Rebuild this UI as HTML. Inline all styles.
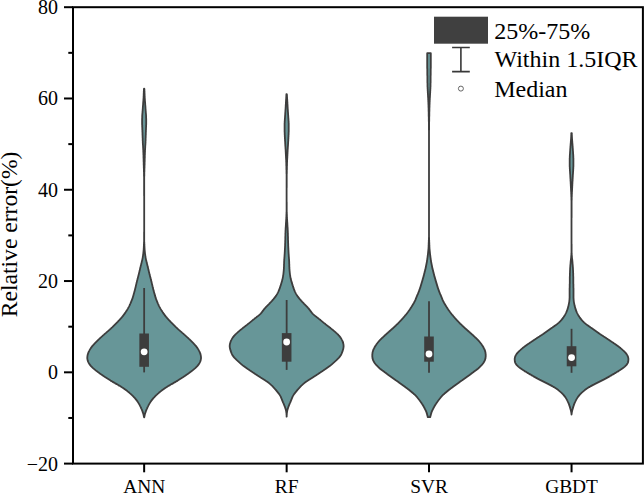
<!DOCTYPE html>
<html><head><meta charset="utf-8"><style>
html,body{margin:0;padding:0;background:#fff;width:644px;height:494px;overflow:hidden}
svg{display:block}
text{font-family:"Liberation Serif",serif;fill:#000}
.tk{font-size:20px}
.xt{font-size:19.4px}
.yl{font-size:23.6px}
.lg{font-size:24px}
</style></head><body>
<svg width="644" height="494" viewBox="0 0 644 494">
<path d="M144.0,88.6 L143.9,89.1 L143.9,89.6 L143.9,90.1 L143.9,90.6 L143.8,91.1 L143.8,91.6 L143.8,92.1 L143.8,92.6 L143.8,93.1 L143.7,93.6 L143.7,94.1 L143.7,94.6 L143.7,95.1 L143.7,95.6 L143.6,96.1 L143.6,96.6 L143.6,97.1 L143.6,97.6 L143.5,98.1 L143.5,98.6 L143.5,99.1 L143.4,99.6 L143.4,100.1 L143.4,100.6 L143.3,101.1 L143.3,101.6 L143.2,102.1 L143.2,102.6 L143.2,103.1 L143.1,103.6 L143.1,104.1 L143.1,104.6 L143.0,105.1 L143.0,105.6 L142.9,106.1 L142.9,106.6 L142.9,107.1 L142.8,107.6 L142.8,108.1 L142.8,108.6 L142.7,109.1 L142.7,109.6 L142.7,110.1 L142.6,110.6 L142.6,111.1 L142.5,111.6 L142.5,112.1 L142.5,112.6 L142.4,113.1 L142.4,113.6 L142.3,114.1 L142.3,114.6 L142.3,115.1 L142.2,115.6 L142.2,116.1 L142.2,116.6 L142.2,117.1 L142.2,117.6 L142.2,118.1 L142.1,118.6 L142.1,119.1 L142.1,119.6 L142.1,120.1 L142.1,120.6 L142.1,121.1 L142.1,121.6 L142.1,122.1 L142.1,122.6 L142.1,123.1 L142.1,123.6 L142.1,124.1 L142.1,124.6 L142.2,125.1 L142.2,125.6 L142.2,126.1 L142.2,126.6 L142.2,127.1 L142.3,127.6 L142.3,128.1 L142.3,128.6 L142.3,129.1 L142.3,129.6 L142.4,130.1 L142.4,130.6 L142.4,131.1 L142.4,131.6 L142.4,132.1 L142.5,132.6 L142.5,133.1 L142.5,133.6 L142.5,134.1 L142.5,134.6 L142.5,135.1 L142.6,135.6 L142.6,136.1 L142.6,136.6 L142.6,137.1 L142.6,137.6 L142.7,138.1 L142.7,138.6 L142.7,139.1 L142.7,139.6 L142.7,140.1 L142.7,140.6 L142.8,141.1 L142.8,141.6 L142.8,142.1 L142.8,142.6 L142.8,143.1 L142.9,143.6 L142.9,144.1 L142.9,144.6 L143.0,145.1 L143.0,145.6 L143.0,146.1 L143.1,146.6 L143.1,147.1 L143.1,147.6 L143.1,148.1 L143.2,148.6 L143.2,149.1 L143.2,149.6 L143.3,150.1 L143.3,150.6 L143.3,151.1 L143.3,151.6 L143.3,152.1 L143.4,152.6 L143.4,153.1 L143.4,153.6 L143.4,154.1 L143.4,154.6 L143.5,155.1 L143.5,155.6 L143.5,156.1 L143.5,156.6 L143.5,157.1 L143.5,157.6 L143.5,158.1 L143.6,158.6 L143.6,159.1 L143.6,159.6 L143.6,160.1 L143.6,160.6 L143.6,161.1 L143.6,161.6 L143.7,162.1 L143.7,162.6 L143.7,163.1 L143.7,163.6 L143.7,164.1 L143.7,164.6 L143.7,165.1 L143.8,165.6 L143.8,166.1 L143.8,166.6 L143.8,167.1 L143.8,167.6 L143.8,168.1 L143.9,168.6 L143.9,169.1 L143.9,169.6 L143.9,170.1 L143.9,170.6 L143.9,171.1 L143.9,171.6 L144.0,172.1 L144.0,172.6 L144.0,173.1 L144.0,173.6 L144.0,174.1 L144.0,174.6 L144.0,175.1 L144.0,175.6 L144.0,176.1 L144.1,176.6 L144.1,177.1 L144.1,177.6 L144.1,178.1 L144.1,178.6 L144.1,179.1 L144.1,179.6 L144.1,180.1 L144.1,180.6 L144.1,181.1 L144.1,181.6 L144.1,182.1 L144.1,182.6 L144.1,183.1 L144.1,183.6 L144.1,184.1 L144.1,184.6 L144.1,185.1 L144.1,185.6 L144.1,186.1 L144.1,186.6 L144.1,187.1 L144.1,187.6 L144.1,188.1 L144.1,188.6 L144.1,189.1 L144.1,189.6 L144.1,190.1 L144.1,190.6 L144.1,191.1 L144.1,191.6 L144.1,192.1 L144.1,192.6 L144.1,193.1 L144.1,193.6 L144.1,194.1 L144.1,194.6 L144.1,195.1 L144.1,195.6 L144.2,196.1 L144.2,196.6 L144.2,197.1 L144.2,197.6 L144.2,198.1 L144.2,198.6 L144.2,199.1 L144.2,199.6 L144.2,200.1 L144.2,200.6 L144.2,201.1 L144.2,201.6 L144.2,202.1 L144.2,202.6 L144.2,203.1 L144.2,203.6 L144.2,204.1 L144.2,204.6 L144.2,205.1 L144.2,205.6 L144.2,206.1 L144.2,206.6 L144.2,207.1 L144.2,207.6 L144.2,208.1 L144.2,208.6 L144.2,209.1 L144.2,209.6 L144.2,210.1 L144.2,210.6 L144.2,211.1 L144.2,211.6 L144.2,212.1 L144.2,212.6 L144.2,213.1 L144.2,213.6 L144.2,214.1 L144.2,214.6 L144.2,215.1 L144.2,215.6 L144.2,216.1 L144.2,216.6 L144.2,217.1 L144.2,217.6 L144.2,218.1 L144.2,218.6 L144.2,219.1 L144.2,219.6 L144.2,220.1 L144.2,220.6 L144.2,221.1 L144.2,221.6 L144.2,222.1 L144.2,222.6 L144.2,223.1 L144.2,223.6 L144.2,224.1 L144.2,224.6 L144.2,225.1 L144.2,225.6 L144.2,226.1 L144.2,226.6 L144.2,227.1 L144.2,227.6 L144.2,228.1 L144.2,228.6 L144.2,229.1 L144.2,229.6 L144.2,230.1 L144.2,230.6 L144.2,231.1 L144.2,231.6 L144.1,232.1 L144.1,232.6 L144.1,233.1 L144.1,233.6 L144.1,234.1 L144.1,234.6 L144.1,235.1 L144.1,235.6 L144.1,236.1 L144.1,236.6 L144.1,237.1 L144.1,237.6 L144.1,238.1 L144.1,238.6 L144.1,239.1 L144.1,239.6 L144.1,240.1 L144.1,240.6 L144.1,241.1 L144.1,241.6 L144.0,242.1 L144.0,242.6 L144.0,243.1 L144.0,243.6 L143.9,244.1 L143.9,244.6 L143.9,245.1 L143.9,245.6 L143.9,246.1 L143.8,246.6 L143.8,247.1 L143.8,247.6 L143.8,248.1 L143.7,248.6 L143.7,249.1 L143.7,249.6 L143.6,250.1 L143.6,250.6 L143.5,251.1 L143.5,251.6 L143.4,252.1 L143.4,252.6 L143.3,253.1 L143.3,253.6 L143.2,254.1 L143.1,254.6 L143.1,255.1 L143.0,255.6 L142.9,256.1 L142.8,256.6 L142.8,257.1 L142.7,257.6 L142.6,258.1 L142.5,258.6 L142.4,259.1 L142.3,259.6 L142.2,260.1 L142.1,260.6 L141.9,261.1 L141.8,261.6 L141.7,262.1 L141.6,262.6 L141.5,263.1 L141.3,263.6 L141.2,264.1 L141.1,264.6 L141.0,265.1 L140.8,265.6 L140.7,266.1 L140.6,266.6 L140.5,267.1 L140.3,267.6 L140.2,268.1 L140.1,268.6 L140.0,269.1 L139.9,269.6 L139.8,270.1 L139.6,270.6 L139.5,271.1 L139.4,271.6 L139.3,272.1 L139.2,272.6 L139.0,273.1 L138.9,273.6 L138.8,274.1 L138.7,274.6 L138.5,275.1 L138.4,275.6 L138.3,276.1 L138.2,276.6 L138.0,277.1 L137.9,277.6 L137.8,278.1 L137.6,278.6 L137.5,279.1 L137.4,279.6 L137.3,280.1 L137.1,280.6 L137.0,281.1 L136.9,281.6 L136.8,282.1 L136.6,282.6 L136.5,283.1 L136.4,283.6 L136.3,284.1 L136.2,284.6 L136.0,285.1 L135.9,285.6 L135.8,286.1 L135.7,286.6 L135.6,287.1 L135.5,287.6 L135.3,288.1 L135.2,288.6 L135.1,289.1 L135.0,289.6 L134.8,290.1 L134.7,290.6 L134.6,291.1 L134.4,291.6 L134.3,292.1 L134.2,292.6 L134.0,293.1 L133.9,293.6 L133.7,294.1 L133.6,294.6 L133.5,295.1 L133.3,295.6 L133.2,296.1 L133.0,296.6 L132.9,297.1 L132.7,297.6 L132.6,298.1 L132.4,298.6 L132.2,299.1 L132.0,299.6 L131.8,300.1 L131.6,300.6 L131.4,301.1 L131.2,301.6 L131.0,302.1 L130.8,302.6 L130.6,303.1 L130.4,303.6 L130.1,304.1 L129.9,304.6 L129.7,305.1 L129.5,305.6 L129.2,306.1 L129.0,306.6 L128.7,307.1 L128.4,307.6 L128.1,308.1 L127.9,308.6 L127.6,309.1 L127.3,309.6 L127.0,310.1 L126.7,310.6 L126.3,311.1 L126.0,311.6 L125.7,312.1 L125.4,312.6 L125.0,313.1 L124.7,313.6 L124.3,314.1 L123.9,314.6 L123.6,315.1 L123.2,315.6 L122.8,316.1 L122.4,316.6 L121.9,317.1 L121.5,317.6 L121.1,318.1 L120.6,318.6 L120.2,319.1 L119.7,319.6 L119.3,320.1 L118.8,320.6 L118.3,321.1 L117.9,321.6 L117.4,322.1 L116.9,322.6 L116.4,323.1 L115.9,323.6 L115.4,324.1 L114.9,324.6 L114.4,325.1 L113.9,325.6 L113.4,326.1 L112.9,326.6 L112.4,327.1 L111.8,327.6 L111.3,328.1 L110.8,328.6 L110.2,329.1 L109.7,329.6 L109.1,330.1 L108.5,330.6 L108.0,331.1 L107.4,331.6 L106.8,332.1 L106.3,332.6 L105.7,333.1 L105.1,333.6 L104.5,334.1 L104.0,334.6 L103.4,335.1 L102.8,335.6 L102.3,336.1 L101.7,336.6 L101.2,337.1 L100.6,337.6 L100.1,338.1 L99.6,338.6 L99.0,339.1 L98.5,339.6 L98.0,340.1 L97.5,340.6 L97.0,341.1 L96.5,341.6 L96.0,342.1 L95.5,342.6 L95.0,343.1 L94.5,343.6 L94.1,344.1 L93.6,344.6 L93.2,345.1 L92.7,345.6 L92.3,346.1 L91.9,346.6 L91.6,347.1 L91.2,347.6 L90.8,348.1 L90.5,348.6 L90.2,349.1 L89.9,349.6 L89.6,350.1 L89.3,350.6 L89.1,351.1 L88.8,351.6 L88.6,352.1 L88.4,352.6 L88.2,353.1 L88.0,353.6 L87.9,354.1 L87.7,354.6 L87.6,355.1 L87.5,355.6 L87.4,356.1 L87.4,356.6 L87.3,357.1 L87.3,357.6 L87.3,358.1 L87.3,358.6 L87.4,359.1 L87.5,359.6 L87.6,360.1 L87.7,360.6 L87.9,361.1 L88.1,361.6 L88.3,362.1 L88.6,362.6 L88.8,363.1 L89.1,363.6 L89.4,364.1 L89.8,364.6 L90.2,365.1 L90.6,365.6 L91.0,366.1 L91.5,366.6 L92.0,367.1 L92.5,367.6 L93.0,368.1 L93.6,368.6 L94.2,369.1 L94.8,369.6 L95.4,370.1 L96.0,370.6 L96.6,371.1 L97.3,371.6 L97.9,372.1 L98.6,372.6 L99.3,373.1 L99.9,373.6 L100.6,374.1 L101.4,374.6 L102.1,375.1 L102.8,375.6 L103.5,376.1 L104.3,376.6 L105.0,377.1 L105.8,377.6 L106.6,378.1 L107.4,378.6 L108.2,379.1 L109.0,379.6 L109.8,380.1 L110.6,380.6 L111.5,381.1 L112.3,381.6 L113.2,382.1 L114.1,382.6 L114.9,383.1 L115.8,383.6 L116.7,384.1 L117.5,384.6 L118.3,385.1 L119.2,385.6 L120.0,386.1 L120.8,386.6 L121.5,387.1 L122.3,387.6 L123.1,388.1 L123.8,388.6 L124.5,389.1 L125.2,389.6 L125.9,390.1 L126.6,390.6 L127.3,391.1 L127.9,391.6 L128.5,392.1 L129.2,392.6 L129.7,393.1 L130.3,393.6 L130.9,394.1 L131.4,394.6 L132.0,395.1 L132.5,395.6 L133.0,396.1 L133.5,396.6 L133.9,397.1 L134.4,397.6 L134.9,398.1 L135.3,398.6 L135.7,399.1 L136.1,399.6 L136.5,400.1 L136.9,400.6 L137.2,401.1 L137.6,401.6 L137.9,402.1 L138.2,402.6 L138.5,403.1 L138.8,403.6 L139.1,404.1 L139.4,404.6 L139.7,405.1 L139.9,405.6 L140.2,406.1 L140.4,406.6 L140.7,407.1 L140.9,407.6 L141.1,408.1 L141.3,408.6 L141.6,409.1 L141.8,409.6 L142.0,410.1 L142.2,410.6 L142.4,411.1 L142.5,411.6 L142.7,412.1 L142.9,412.6 L143.1,413.1 L143.2,413.6 L143.4,414.1 L143.5,414.6 L143.6,415.1 L143.7,415.6 L143.8,416.1 L143.9,416.6 L144.0,417.1 L144.2,417.3 L144.2,417.3 L144.3,417.1 L144.4,416.6 L144.5,416.1 L144.6,415.6 L144.7,415.1 L144.8,414.6 L144.9,414.1 L145.1,413.6 L145.2,413.1 L145.4,412.6 L145.6,412.1 L145.8,411.6 L145.9,411.1 L146.1,410.6 L146.3,410.1 L146.5,409.6 L146.7,409.1 L147.0,408.6 L147.2,408.1 L147.4,407.6 L147.6,407.1 L147.9,406.6 L148.1,406.1 L148.4,405.6 L148.6,405.1 L148.9,404.6 L149.2,404.1 L149.5,403.6 L149.8,403.1 L150.1,402.6 L150.4,402.1 L150.7,401.6 L151.1,401.1 L151.4,400.6 L151.8,400.1 L152.2,399.6 L152.6,399.1 L153.0,398.6 L153.4,398.1 L153.9,397.6 L154.4,397.1 L154.8,396.6 L155.3,396.1 L155.8,395.6 L156.3,395.1 L156.9,394.6 L157.4,394.1 L158.0,393.6 L158.6,393.1 L159.1,392.6 L159.8,392.1 L160.4,391.6 L161.0,391.1 L161.7,390.6 L162.4,390.1 L163.1,389.6 L163.8,389.1 L164.5,388.6 L165.2,388.1 L166.0,387.6 L166.8,387.1 L167.5,386.6 L168.3,386.1 L169.1,385.6 L170.0,385.1 L170.8,384.6 L171.6,384.1 L172.5,383.6 L173.4,383.1 L174.2,382.6 L175.1,382.1 L176.0,381.6 L176.8,381.1 L177.7,380.6 L178.5,380.1 L179.3,379.6 L180.1,379.1 L180.9,378.6 L181.7,378.1 L182.5,377.6 L183.3,377.1 L184.0,376.6 L184.8,376.1 L185.5,375.6 L186.2,375.1 L186.9,374.6 L187.7,374.1 L188.4,373.6 L189.0,373.1 L189.7,372.6 L190.4,372.1 L191.0,371.6 L191.7,371.1 L192.3,370.6 L192.9,370.1 L193.5,369.6 L194.1,369.1 L194.7,368.6 L195.3,368.1 L195.8,367.6 L196.3,367.1 L196.8,366.6 L197.3,366.1 L197.7,365.6 L198.1,365.1 L198.5,364.6 L198.9,364.1 L199.2,363.6 L199.5,363.1 L199.7,362.6 L200.0,362.1 L200.2,361.6 L200.4,361.1 L200.6,360.6 L200.7,360.1 L200.8,359.6 L200.9,359.1 L201.0,358.6 L201.0,358.1 L201.0,357.6 L201.0,357.1 L200.9,356.6 L200.9,356.1 L200.8,355.6 L200.7,355.1 L200.6,354.6 L200.4,354.1 L200.3,353.6 L200.1,353.1 L199.9,352.6 L199.7,352.1 L199.5,351.6 L199.2,351.1 L199.0,350.6 L198.7,350.1 L198.4,349.6 L198.1,349.1 L197.8,348.6 L197.5,348.1 L197.1,347.6 L196.7,347.1 L196.4,346.6 L196.0,346.1 L195.6,345.6 L195.1,345.1 L194.7,344.6 L194.2,344.1 L193.8,343.6 L193.3,343.1 L192.8,342.6 L192.3,342.1 L191.8,341.6 L191.3,341.1 L190.8,340.6 L190.3,340.1 L189.8,339.6 L189.3,339.1 L188.7,338.6 L188.2,338.1 L187.7,337.6 L187.1,337.1 L186.6,336.6 L186.0,336.1 L185.5,335.6 L184.9,335.1 L184.3,334.6 L183.8,334.1 L183.2,333.6 L182.6,333.1 L182.0,332.6 L181.5,332.1 L180.9,331.6 L180.3,331.1 L179.8,330.6 L179.2,330.1 L178.6,329.6 L178.1,329.1 L177.5,328.6 L177.0,328.1 L176.5,327.6 L175.9,327.1 L175.4,326.6 L174.9,326.1 L174.4,325.6 L173.9,325.1 L173.4,324.6 L172.9,324.1 L172.4,323.6 L171.9,323.1 L171.4,322.6 L170.9,322.1 L170.4,321.6 L170.0,321.1 L169.5,320.6 L169.0,320.1 L168.6,319.6 L168.1,319.1 L167.7,318.6 L167.2,318.1 L166.8,317.6 L166.4,317.1 L165.9,316.6 L165.5,316.1 L165.1,315.6 L164.7,315.1 L164.4,314.6 L164.0,314.1 L163.6,313.6 L163.3,313.1 L162.9,312.6 L162.6,312.1 L162.3,311.6 L162.0,311.1 L161.6,310.6 L161.3,310.1 L161.0,309.6 L160.7,309.1 L160.4,308.6 L160.2,308.1 L159.9,307.6 L159.6,307.1 L159.3,306.6 L159.1,306.1 L158.8,305.6 L158.6,305.1 L158.4,304.6 L158.2,304.1 L157.9,303.6 L157.7,303.1 L157.5,302.6 L157.3,302.1 L157.1,301.6 L156.9,301.1 L156.7,300.6 L156.5,300.1 L156.3,299.6 L156.1,299.1 L155.9,298.6 L155.7,298.1 L155.6,297.6 L155.4,297.1 L155.3,296.6 L155.1,296.1 L155.0,295.6 L154.8,295.1 L154.7,294.6 L154.6,294.1 L154.4,293.6 L154.3,293.1 L154.1,292.6 L154.0,292.1 L153.9,291.6 L153.7,291.1 L153.6,290.6 L153.5,290.1 L153.3,289.6 L153.2,289.1 L153.1,288.6 L153.0,288.1 L152.8,287.6 L152.7,287.1 L152.6,286.6 L152.5,286.1 L152.4,285.6 L152.3,285.1 L152.1,284.6 L152.0,284.1 L151.9,283.6 L151.8,283.1 L151.7,282.6 L151.5,282.1 L151.4,281.6 L151.3,281.1 L151.2,280.6 L151.0,280.1 L150.9,279.6 L150.8,279.1 L150.7,278.6 L150.5,278.1 L150.4,277.6 L150.3,277.1 L150.1,276.6 L150.0,276.1 L149.9,275.6 L149.8,275.1 L149.6,274.6 L149.5,274.1 L149.4,273.6 L149.3,273.1 L149.1,272.6 L149.0,272.1 L148.9,271.6 L148.8,271.1 L148.7,270.6 L148.5,270.1 L148.4,269.6 L148.3,269.1 L148.2,268.6 L148.1,268.1 L148.0,267.6 L147.8,267.1 L147.7,266.6 L147.6,266.1 L147.5,265.6 L147.3,265.1 L147.2,264.6 L147.1,264.1 L147.0,263.6 L146.8,263.1 L146.7,262.6 L146.6,262.1 L146.5,261.6 L146.4,261.1 L146.2,260.6 L146.1,260.1 L146.0,259.6 L145.9,259.1 L145.8,258.6 L145.7,258.1 L145.6,257.6 L145.5,257.1 L145.5,256.6 L145.4,256.1 L145.3,255.6 L145.2,255.1 L145.2,254.6 L145.1,254.1 L145.0,253.6 L145.0,253.1 L144.9,252.6 L144.9,252.1 L144.8,251.6 L144.8,251.1 L144.7,250.6 L144.7,250.1 L144.6,249.6 L144.6,249.1 L144.6,248.6 L144.5,248.1 L144.5,247.6 L144.5,247.1 L144.5,246.6 L144.4,246.1 L144.4,245.6 L144.4,245.1 L144.4,244.6 L144.4,244.1 L144.3,243.6 L144.3,243.1 L144.3,242.6 L144.3,242.1 L144.2,241.6 L144.2,241.1 L144.2,240.6 L144.2,240.1 L144.2,239.6 L144.2,239.1 L144.2,238.6 L144.2,238.1 L144.2,237.6 L144.2,237.1 L144.2,236.6 L144.2,236.1 L144.2,235.6 L144.2,235.1 L144.2,234.6 L144.2,234.1 L144.2,233.6 L144.2,233.1 L144.2,232.6 L144.2,232.1 L144.2,231.6 L144.2,231.1 L144.2,230.6 L144.2,230.1 L144.2,229.6 L144.2,229.1 L144.2,228.6 L144.2,228.1 L144.2,227.6 L144.2,227.1 L144.2,226.6 L144.2,226.1 L144.2,225.6 L144.2,225.1 L144.2,224.6 L144.2,224.1 L144.2,223.6 L144.2,223.1 L144.2,222.6 L144.2,222.1 L144.2,221.6 L144.2,221.1 L144.2,220.6 L144.2,220.1 L144.2,219.6 L144.2,219.1 L144.2,218.6 L144.2,218.1 L144.2,217.6 L144.2,217.1 L144.2,216.6 L144.2,216.1 L144.2,215.6 L144.2,215.1 L144.2,214.6 L144.2,214.1 L144.2,213.6 L144.2,213.1 L144.2,212.6 L144.2,212.1 L144.2,211.6 L144.2,211.1 L144.2,210.6 L144.2,210.1 L144.2,209.6 L144.2,209.1 L144.2,208.6 L144.2,208.1 L144.2,207.6 L144.2,207.1 L144.2,206.6 L144.2,206.1 L144.2,205.6 L144.2,205.1 L144.2,204.6 L144.2,204.1 L144.2,203.6 L144.2,203.1 L144.2,202.6 L144.2,202.1 L144.2,201.6 L144.2,201.1 L144.2,200.6 L144.2,200.1 L144.2,199.6 L144.2,199.1 L144.2,198.6 L144.2,198.1 L144.2,197.6 L144.2,197.1 L144.2,196.6 L144.2,196.1 L144.2,195.6 L144.2,195.1 L144.2,194.6 L144.2,194.1 L144.2,193.6 L144.2,193.1 L144.2,192.6 L144.2,192.1 L144.2,191.6 L144.2,191.1 L144.2,190.6 L144.2,190.1 L144.2,189.6 L144.2,189.1 L144.2,188.6 L144.2,188.1 L144.2,187.6 L144.2,187.1 L144.2,186.6 L144.2,186.1 L144.2,185.6 L144.2,185.1 L144.2,184.6 L144.2,184.1 L144.2,183.6 L144.2,183.1 L144.2,182.6 L144.2,182.1 L144.2,181.6 L144.2,181.1 L144.2,180.6 L144.2,180.1 L144.2,179.6 L144.2,179.1 L144.2,178.6 L144.2,178.1 L144.2,177.6 L144.2,177.1 L144.2,176.6 L144.3,176.1 L144.3,175.6 L144.3,175.1 L144.3,174.6 L144.3,174.1 L144.3,173.6 L144.3,173.1 L144.3,172.6 L144.3,172.1 L144.4,171.6 L144.4,171.1 L144.4,170.6 L144.4,170.1 L144.4,169.6 L144.4,169.1 L144.4,168.6 L144.5,168.1 L144.5,167.6 L144.5,167.1 L144.5,166.6 L144.5,166.1 L144.5,165.6 L144.6,165.1 L144.6,164.6 L144.6,164.1 L144.6,163.6 L144.6,163.1 L144.6,162.6 L144.6,162.1 L144.7,161.6 L144.7,161.1 L144.7,160.6 L144.7,160.1 L144.7,159.6 L144.7,159.1 L144.7,158.6 L144.8,158.1 L144.8,157.6 L144.8,157.1 L144.8,156.6 L144.8,156.1 L144.8,155.6 L144.8,155.1 L144.9,154.6 L144.9,154.1 L144.9,153.6 L144.9,153.1 L144.9,152.6 L145.0,152.1 L145.0,151.6 L145.0,151.1 L145.0,150.6 L145.0,150.1 L145.1,149.6 L145.1,149.1 L145.1,148.6 L145.2,148.1 L145.2,147.6 L145.2,147.1 L145.2,146.6 L145.3,146.1 L145.3,145.6 L145.3,145.1 L145.4,144.6 L145.4,144.1 L145.4,143.6 L145.5,143.1 L145.5,142.6 L145.5,142.1 L145.5,141.6 L145.5,141.1 L145.6,140.6 L145.6,140.1 L145.6,139.6 L145.6,139.1 L145.6,138.6 L145.6,138.1 L145.7,137.6 L145.7,137.1 L145.7,136.6 L145.7,136.1 L145.7,135.6 L145.8,135.1 L145.8,134.6 L145.8,134.1 L145.8,133.6 L145.8,133.1 L145.8,132.6 L145.9,132.1 L145.9,131.6 L145.9,131.1 L145.9,130.6 L145.9,130.1 L146.0,129.6 L146.0,129.1 L146.0,128.6 L146.0,128.1 L146.0,127.6 L146.1,127.1 L146.1,126.6 L146.1,126.1 L146.1,125.6 L146.1,125.1 L146.2,124.6 L146.2,124.1 L146.2,123.6 L146.2,123.1 L146.2,122.6 L146.2,122.1 L146.2,121.6 L146.2,121.1 L146.2,120.6 L146.2,120.1 L146.2,119.6 L146.2,119.1 L146.2,118.6 L146.1,118.1 L146.1,117.6 L146.1,117.1 L146.1,116.6 L146.1,116.1 L146.1,115.6 L146.0,115.1 L146.0,114.6 L146.0,114.1 L145.9,113.6 L145.9,113.1 L145.8,112.6 L145.8,112.1 L145.8,111.6 L145.7,111.1 L145.7,110.6 L145.6,110.1 L145.6,109.6 L145.6,109.1 L145.5,108.6 L145.5,108.1 L145.5,107.6 L145.4,107.1 L145.4,106.6 L145.4,106.1 L145.3,105.6 L145.3,105.1 L145.2,104.6 L145.2,104.1 L145.2,103.6 L145.1,103.1 L145.1,102.6 L145.1,102.1 L145.0,101.6 L145.0,101.1 L144.9,100.6 L144.9,100.1 L144.9,99.6 L144.8,99.1 L144.8,98.6 L144.8,98.1 L144.7,97.6 L144.7,97.1 L144.7,96.6 L144.7,96.1 L144.6,95.6 L144.6,95.1 L144.6,94.6 L144.6,94.1 L144.6,93.6 L144.5,93.1 L144.5,92.6 L144.5,92.1 L144.5,91.6 L144.5,91.1 L144.4,90.6 L144.4,90.1 L144.4,89.6 L144.4,89.1 L144.3,88.6 Z" fill="#679698" stroke="#3d3d3d" stroke-width="1.8" stroke-linejoin="round"/>
<line x1="144.15" y1="288" x2="144.15" y2="372.4" stroke="#3d3d3d" stroke-width="1.8"/>
<rect x="139.35" y="333.5" width="9.6" height="33.30" fill="#3d3d3d"/>
<circle cx="144.15" cy="351.8" r="3.4" fill="#fff"/>
<path d="M286.4,94.1 L286.4,94.6 L286.4,95.1 L286.3,95.6 L286.3,96.1 L286.3,96.6 L286.3,97.1 L286.2,97.6 L286.2,98.1 L286.2,98.6 L286.1,99.1 L286.1,99.6 L286.1,100.1 L286.0,100.6 L286.0,101.1 L286.0,101.6 L285.9,102.1 L285.9,102.6 L285.9,103.1 L285.9,103.6 L285.8,104.1 L285.8,104.6 L285.8,105.1 L285.7,105.6 L285.7,106.1 L285.7,106.6 L285.7,107.1 L285.6,107.6 L285.6,108.1 L285.6,108.6 L285.5,109.1 L285.5,109.6 L285.5,110.1 L285.4,110.6 L285.4,111.1 L285.4,111.6 L285.3,112.1 L285.3,112.6 L285.3,113.1 L285.2,113.6 L285.2,114.1 L285.2,114.6 L285.1,115.1 L285.1,115.6 L285.1,116.1 L285.0,116.6 L285.0,117.1 L285.0,117.6 L284.9,118.1 L284.9,118.6 L284.9,119.1 L284.8,119.6 L284.8,120.1 L284.8,120.6 L284.7,121.1 L284.7,121.6 L284.7,122.1 L284.7,122.6 L284.6,123.1 L284.6,123.6 L284.6,124.1 L284.6,124.6 L284.6,125.1 L284.6,125.6 L284.6,126.1 L284.6,126.6 L284.6,127.1 L284.6,127.6 L284.6,128.1 L284.6,128.6 L284.6,129.1 L284.6,129.6 L284.6,130.1 L284.6,130.6 L284.6,131.1 L284.6,131.6 L284.6,132.1 L284.7,132.6 L284.7,133.1 L284.7,133.6 L284.7,134.1 L284.7,134.6 L284.8,135.1 L284.8,135.6 L284.8,136.1 L284.8,136.6 L284.9,137.1 L284.9,137.6 L284.9,138.1 L284.9,138.6 L285.0,139.1 L285.0,139.6 L285.0,140.1 L285.0,140.6 L285.1,141.1 L285.1,141.6 L285.1,142.1 L285.2,142.6 L285.2,143.1 L285.2,143.6 L285.2,144.1 L285.3,144.6 L285.3,145.1 L285.3,145.6 L285.4,146.1 L285.4,146.6 L285.4,147.1 L285.5,147.6 L285.5,148.1 L285.5,148.6 L285.6,149.1 L285.6,149.6 L285.6,150.1 L285.7,150.6 L285.7,151.1 L285.7,151.6 L285.7,152.1 L285.8,152.6 L285.8,153.1 L285.8,153.6 L285.8,154.1 L285.9,154.6 L285.9,155.1 L285.9,155.6 L285.9,156.1 L286.0,156.6 L286.0,157.1 L286.0,157.6 L286.0,158.1 L286.1,158.6 L286.1,159.1 L286.1,159.6 L286.2,160.1 L286.2,160.6 L286.2,161.1 L286.2,161.6 L286.2,162.1 L286.3,162.6 L286.3,163.1 L286.3,163.6 L286.3,164.1 L286.3,164.6 L286.3,165.1 L286.3,165.6 L286.4,166.1 L286.4,166.6 L286.4,167.1 L286.4,167.6 L286.4,168.1 L286.4,168.6 L286.4,169.1 L286.4,169.6 L286.5,170.1 L286.5,170.6 L286.5,171.1 L286.5,171.6 L286.5,172.1 L286.5,172.6 L286.5,173.1 L286.5,173.6 L286.6,174.1 L286.6,174.6 L286.6,175.1 L286.6,175.6 L286.6,176.1 L286.6,176.6 L286.6,177.1 L286.6,177.6 L286.6,178.1 L286.6,178.6 L286.6,179.1 L286.6,179.6 L286.6,180.1 L286.6,180.6 L286.6,181.1 L286.6,181.6 L286.6,182.1 L286.6,182.6 L286.6,183.1 L286.6,183.6 L286.6,184.1 L286.6,184.6 L286.6,185.1 L286.6,185.6 L286.6,186.1 L286.6,186.6 L286.6,187.1 L286.6,187.6 L286.6,188.1 L286.6,188.6 L286.6,189.1 L286.6,189.6 L286.6,190.1 L286.6,190.6 L286.6,191.1 L286.6,191.6 L286.6,192.1 L286.6,192.6 L286.6,193.1 L286.6,193.6 L286.6,194.1 L286.6,194.6 L286.6,195.1 L286.6,195.6 L286.6,196.1 L286.6,196.6 L286.6,197.1 L286.6,197.6 L286.6,198.1 L286.6,198.6 L286.6,199.1 L286.6,199.6 L286.6,200.1 L286.6,200.6 L286.6,201.1 L286.6,201.6 L286.6,202.1 L286.6,202.6 L286.6,203.1 L286.6,203.6 L286.6,204.1 L286.6,204.6 L286.6,205.1 L286.6,205.6 L286.6,206.1 L286.6,206.6 L286.6,207.1 L286.6,207.6 L286.6,208.1 L286.6,208.6 L286.6,209.1 L286.6,209.6 L286.6,210.1 L286.6,210.6 L286.6,211.1 L286.6,211.6 L286.5,212.1 L286.5,212.6 L286.5,213.1 L286.5,213.6 L286.5,214.1 L286.4,214.6 L286.4,215.1 L286.4,215.6 L286.4,216.1 L286.4,216.6 L286.3,217.1 L286.3,217.6 L286.3,218.1 L286.3,218.6 L286.2,219.1 L286.2,219.6 L286.2,220.1 L286.1,220.6 L286.1,221.1 L286.1,221.6 L286.0,222.1 L286.0,222.6 L286.0,223.1 L285.9,223.6 L285.9,224.1 L285.9,224.6 L285.9,225.1 L285.8,225.6 L285.8,226.1 L285.8,226.6 L285.7,227.1 L285.7,227.6 L285.7,228.1 L285.6,228.6 L285.6,229.1 L285.6,229.6 L285.6,230.1 L285.5,230.6 L285.5,231.1 L285.5,231.6 L285.5,232.1 L285.5,232.6 L285.4,233.1 L285.4,233.6 L285.4,234.1 L285.4,234.6 L285.4,235.1 L285.4,235.6 L285.4,236.1 L285.3,236.6 L285.3,237.1 L285.3,237.6 L285.3,238.1 L285.3,238.6 L285.3,239.1 L285.3,239.6 L285.3,240.1 L285.2,240.6 L285.2,241.1 L285.2,241.6 L285.2,242.1 L285.2,242.6 L285.2,243.1 L285.1,243.6 L285.1,244.1 L285.1,244.6 L285.1,245.1 L285.1,245.6 L285.1,246.1 L285.0,246.6 L285.0,247.1 L285.0,247.6 L285.0,248.1 L284.9,248.6 L284.9,249.1 L284.9,249.6 L284.9,250.1 L284.8,250.6 L284.8,251.1 L284.8,251.6 L284.8,252.1 L284.7,252.6 L284.7,253.1 L284.7,253.6 L284.6,254.1 L284.6,254.6 L284.6,255.1 L284.5,255.6 L284.5,256.1 L284.5,256.6 L284.4,257.1 L284.4,257.6 L284.4,258.1 L284.3,258.6 L284.3,259.1 L284.2,259.6 L284.2,260.1 L284.2,260.6 L284.2,261.1 L284.1,261.6 L284.1,262.1 L284.1,262.6 L284.1,263.1 L284.1,263.6 L284.0,264.1 L284.0,264.6 L284.0,265.1 L284.0,265.6 L284.0,266.1 L284.0,266.6 L283.9,267.1 L283.9,267.6 L283.9,268.1 L283.9,268.6 L283.8,269.1 L283.8,269.6 L283.8,270.1 L283.7,270.6 L283.7,271.1 L283.6,271.6 L283.6,272.1 L283.5,272.6 L283.5,273.1 L283.4,273.6 L283.4,274.1 L283.3,274.6 L283.2,275.1 L283.1,275.6 L283.1,276.1 L283.0,276.6 L282.9,277.1 L282.8,277.6 L282.7,278.1 L282.6,278.6 L282.5,279.1 L282.3,279.6 L282.2,280.1 L282.1,280.6 L282.0,281.1 L281.8,281.6 L281.7,282.1 L281.5,282.6 L281.4,283.1 L281.2,283.6 L281.1,284.1 L280.9,284.6 L280.8,285.1 L280.6,285.6 L280.4,286.1 L280.3,286.6 L280.1,287.1 L279.9,287.6 L279.8,288.1 L279.6,288.6 L279.4,289.1 L279.2,289.6 L279.0,290.1 L278.8,290.6 L278.6,291.1 L278.4,291.6 L278.1,292.1 L277.9,292.6 L277.6,293.1 L277.4,293.6 L277.1,294.1 L276.8,294.6 L276.5,295.1 L276.2,295.6 L275.8,296.1 L275.5,296.6 L275.1,297.1 L274.7,297.6 L274.3,298.1 L273.9,298.6 L273.5,299.1 L273.0,299.6 L272.6,300.1 L272.2,300.6 L271.7,301.1 L271.3,301.6 L270.8,302.1 L270.3,302.6 L269.8,303.1 L269.4,303.6 L268.9,304.1 L268.4,304.6 L267.9,305.1 L267.4,305.6 L266.9,306.1 L266.4,306.6 L265.9,307.1 L265.5,307.6 L265.0,308.1 L264.6,308.6 L264.2,309.1 L263.8,309.6 L263.4,310.1 L263.1,310.6 L262.7,311.1 L262.3,311.6 L262.0,312.1 L261.6,312.6 L261.1,313.1 L260.7,313.6 L260.2,314.1 L259.6,314.6 L259.1,315.1 L258.5,315.6 L257.9,316.1 L257.3,316.6 L256.6,317.1 L256.0,317.6 L255.4,318.1 L254.7,318.6 L254.1,319.1 L253.5,319.6 L252.8,320.1 L252.2,320.6 L251.6,321.1 L251.0,321.6 L250.4,322.1 L249.8,322.6 L249.2,323.1 L248.6,323.6 L247.9,324.1 L247.3,324.6 L246.7,325.1 L246.1,325.6 L245.4,326.1 L244.8,326.6 L244.1,327.1 L243.5,327.6 L242.8,328.1 L242.2,328.6 L241.6,329.1 L241.0,329.6 L240.3,330.1 L239.7,330.6 L239.1,331.1 L238.5,331.6 L237.9,332.1 L237.4,332.6 L236.8,333.1 L236.3,333.6 L235.7,334.1 L235.2,334.6 L234.8,335.1 L234.3,335.6 L233.9,336.1 L233.5,336.6 L233.1,337.1 L232.7,337.6 L232.4,338.1 L232.1,338.6 L231.8,339.1 L231.5,339.6 L231.3,340.1 L231.0,340.6 L230.8,341.1 L230.6,341.6 L230.5,342.1 L230.3,342.6 L230.2,343.1 L230.0,343.6 L229.9,344.1 L229.8,344.6 L229.8,345.1 L229.7,345.6 L229.7,346.1 L229.7,346.6 L229.8,347.1 L229.8,347.6 L229.9,348.1 L230.0,348.6 L230.1,349.1 L230.3,349.6 L230.4,350.1 L230.6,350.6 L230.7,351.1 L230.9,351.6 L231.1,352.1 L231.3,352.6 L231.5,353.1 L231.7,353.6 L231.9,354.1 L232.2,354.6 L232.4,355.1 L232.8,355.6 L233.1,356.1 L233.5,356.6 L233.9,357.1 L234.3,357.6 L234.8,358.1 L235.3,358.6 L235.8,359.1 L236.3,359.6 L236.8,360.1 L237.4,360.6 L237.9,361.1 L238.5,361.6 L239.0,362.1 L239.6,362.6 L240.1,363.1 L240.7,363.6 L241.2,364.1 L241.8,364.6 L242.4,365.1 L243.0,365.6 L243.6,366.1 L244.3,366.6 L245.0,367.1 L245.7,367.6 L246.4,368.1 L247.1,368.6 L247.8,369.1 L248.6,369.6 L249.3,370.1 L250.0,370.6 L250.8,371.1 L251.5,371.6 L252.3,372.1 L253.0,372.6 L253.8,373.1 L254.5,373.6 L255.2,374.1 L256.0,374.6 L256.8,375.1 L257.5,375.6 L258.3,376.1 L259.1,376.6 L259.9,377.1 L260.6,377.6 L261.4,378.1 L262.2,378.6 L263.0,379.1 L263.8,379.6 L264.6,380.1 L265.4,380.6 L266.1,381.1 L266.9,381.6 L267.6,382.1 L268.3,382.6 L269.0,383.1 L269.6,383.6 L270.2,384.1 L270.8,384.6 L271.3,385.1 L271.9,385.6 L272.4,386.1 L272.9,386.6 L273.3,387.1 L273.8,387.6 L274.2,388.1 L274.7,388.6 L275.1,389.1 L275.6,389.6 L276.0,390.1 L276.4,390.6 L276.8,391.1 L277.2,391.6 L277.6,392.1 L278.0,392.6 L278.4,393.1 L278.8,393.6 L279.2,394.1 L279.5,394.6 L279.8,395.1 L280.1,395.6 L280.4,396.1 L280.7,396.6 L280.9,397.1 L281.1,397.6 L281.3,398.1 L281.5,398.6 L281.7,399.1 L281.9,399.6 L282.1,400.1 L282.3,400.6 L282.5,401.1 L282.7,401.6 L282.9,402.1 L283.1,402.6 L283.4,403.1 L283.6,403.6 L283.8,404.1 L284.0,404.6 L284.2,405.1 L284.4,405.6 L284.6,406.1 L284.8,406.6 L285.0,407.1 L285.1,407.6 L285.3,408.1 L285.5,408.6 L285.6,409.1 L285.8,409.6 L285.9,410.1 L286.0,410.6 L286.1,411.1 L286.2,411.6 L286.3,412.1 L286.3,412.6 L286.4,413.1 L286.5,413.6 L286.5,414.1 L286.5,414.6 L286.6,415.1 L286.6,415.6 L286.6,416.1 L286.6,416.6 L286.6,416.7 L286.6,416.7 L286.7,416.6 L286.7,416.1 L286.7,415.6 L286.7,415.1 L286.8,414.6 L286.8,414.1 L286.8,413.6 L286.9,413.1 L287.0,412.6 L287.0,412.1 L287.1,411.6 L287.2,411.1 L287.3,410.6 L287.4,410.1 L287.5,409.6 L287.7,409.1 L287.8,408.6 L288.0,408.1 L288.2,407.6 L288.3,407.1 L288.5,406.6 L288.7,406.1 L288.9,405.6 L289.1,405.1 L289.3,404.6 L289.5,404.1 L289.7,403.6 L289.9,403.1 L290.2,402.6 L290.4,402.1 L290.6,401.6 L290.8,401.1 L291.0,400.6 L291.2,400.1 L291.4,399.6 L291.6,399.1 L291.8,398.6 L292.0,398.1 L292.2,397.6 L292.4,397.1 L292.6,396.6 L292.9,396.1 L293.2,395.6 L293.5,395.1 L293.8,394.6 L294.1,394.1 L294.5,393.6 L294.9,393.1 L295.3,392.6 L295.7,392.1 L296.1,391.6 L296.5,391.1 L296.9,390.6 L297.3,390.1 L297.7,389.6 L298.2,389.1 L298.6,388.6 L299.1,388.1 L299.5,387.6 L300.0,387.1 L300.4,386.6 L300.9,386.1 L301.4,385.6 L302.0,385.1 L302.5,384.6 L303.1,384.1 L303.7,383.6 L304.3,383.1 L305.0,382.6 L305.7,382.1 L306.4,381.6 L307.2,381.1 L307.9,380.6 L308.7,380.1 L309.5,379.6 L310.3,379.1 L311.1,378.6 L311.9,378.1 L312.7,377.6 L313.4,377.1 L314.2,376.6 L315.0,376.1 L315.8,375.6 L316.5,375.1 L317.3,374.6 L318.1,374.1 L318.8,373.6 L319.5,373.1 L320.3,372.6 L321.0,372.1 L321.8,371.6 L322.5,371.1 L323.3,370.6 L324.0,370.1 L324.7,369.6 L325.5,369.1 L326.2,368.6 L326.9,368.1 L327.6,367.6 L328.3,367.1 L329.0,366.6 L329.7,366.1 L330.3,365.6 L330.9,365.1 L331.5,364.6 L332.1,364.1 L332.6,363.6 L333.2,363.1 L333.7,362.6 L334.3,362.1 L334.8,361.6 L335.4,361.1 L335.9,360.6 L336.5,360.1 L337.0,359.6 L337.5,359.1 L338.0,358.6 L338.5,358.1 L339.0,357.6 L339.4,357.1 L339.8,356.6 L340.2,356.1 L340.5,355.6 L340.9,355.1 L341.1,354.6 L341.4,354.1 L341.6,353.6 L341.8,353.1 L342.0,352.6 L342.2,352.1 L342.4,351.6 L342.6,351.1 L342.7,350.6 L342.9,350.1 L343.0,349.6 L343.2,349.1 L343.3,348.6 L343.4,348.1 L343.5,347.6 L343.5,347.1 L343.6,346.6 L343.6,346.1 L343.6,345.6 L343.5,345.1 L343.5,344.6 L343.4,344.1 L343.3,343.6 L343.1,343.1 L343.0,342.6 L342.8,342.1 L342.7,341.6 L342.5,341.1 L342.3,340.6 L342.0,340.1 L341.8,339.6 L341.5,339.1 L341.2,338.6 L340.9,338.1 L340.6,337.6 L340.2,337.1 L339.8,336.6 L339.4,336.1 L339.0,335.6 L338.5,335.1 L338.1,334.6 L337.6,334.1 L337.0,333.6 L336.5,333.1 L335.9,332.6 L335.4,332.1 L334.8,331.6 L334.2,331.1 L333.6,330.6 L333.0,330.1 L332.3,329.6 L331.7,329.1 L331.1,328.6 L330.5,328.1 L329.8,327.6 L329.2,327.1 L328.5,326.6 L327.9,326.1 L327.2,325.6 L326.6,325.1 L326.0,324.6 L325.4,324.1 L324.7,323.6 L324.1,323.1 L323.5,322.6 L322.9,322.1 L322.3,321.6 L321.7,321.1 L321.1,320.6 L320.5,320.1 L319.8,319.6 L319.2,319.1 L318.6,318.6 L317.9,318.1 L317.3,317.6 L316.7,317.1 L316.0,316.6 L315.4,316.1 L314.8,315.6 L314.2,315.1 L313.7,314.6 L313.1,314.1 L312.6,313.6 L312.2,313.1 L311.7,312.6 L311.3,312.1 L311.0,311.6 L310.6,311.1 L310.2,310.6 L309.9,310.1 L309.5,309.6 L309.1,309.1 L308.7,308.6 L308.3,308.1 L307.8,307.6 L307.4,307.1 L306.9,306.6 L306.4,306.1 L305.9,305.6 L305.4,305.1 L304.9,304.6 L304.4,304.1 L303.9,303.6 L303.5,303.1 L303.0,302.6 L302.5,302.1 L302.0,301.6 L301.6,301.1 L301.1,300.6 L300.7,300.1 L300.3,299.6 L299.8,299.1 L299.4,298.6 L299.0,298.1 L298.6,297.6 L298.2,297.1 L297.8,296.6 L297.5,296.1 L297.1,295.6 L296.8,295.1 L296.5,294.6 L296.2,294.1 L295.9,293.6 L295.7,293.1 L295.4,292.6 L295.2,292.1 L294.9,291.6 L294.7,291.1 L294.5,290.6 L294.3,290.1 L294.1,289.6 L293.9,289.1 L293.7,288.6 L293.5,288.1 L293.4,287.6 L293.2,287.1 L293.0,286.6 L292.9,286.1 L292.7,285.6 L292.5,285.1 L292.4,284.6 L292.2,284.1 L292.1,283.6 L291.9,283.1 L291.8,282.6 L291.6,282.1 L291.5,281.6 L291.3,281.1 L291.2,280.6 L291.1,280.1 L291.0,279.6 L290.8,279.1 L290.7,278.6 L290.6,278.1 L290.5,277.6 L290.4,277.1 L290.3,276.6 L290.2,276.1 L290.2,275.6 L290.1,275.1 L290.0,274.6 L289.9,274.1 L289.9,273.6 L289.8,273.1 L289.8,272.6 L289.7,272.1 L289.7,271.6 L289.6,271.1 L289.6,270.6 L289.5,270.1 L289.5,269.6 L289.5,269.1 L289.4,268.6 L289.4,268.1 L289.4,267.6 L289.4,267.1 L289.3,266.6 L289.3,266.1 L289.3,265.6 L289.3,265.1 L289.3,264.6 L289.3,264.1 L289.2,263.6 L289.2,263.1 L289.2,262.6 L289.2,262.1 L289.2,261.6 L289.1,261.1 L289.1,260.6 L289.1,260.1 L289.1,259.6 L289.0,259.1 L289.0,258.6 L288.9,258.1 L288.9,257.6 L288.9,257.1 L288.8,256.6 L288.8,256.1 L288.8,255.6 L288.7,255.1 L288.7,254.6 L288.7,254.1 L288.6,253.6 L288.6,253.1 L288.6,252.6 L288.5,252.1 L288.5,251.6 L288.5,251.1 L288.5,250.6 L288.4,250.1 L288.4,249.6 L288.4,249.1 L288.4,248.6 L288.3,248.1 L288.3,247.6 L288.3,247.1 L288.3,246.6 L288.2,246.1 L288.2,245.6 L288.2,245.1 L288.2,244.6 L288.2,244.1 L288.2,243.6 L288.1,243.1 L288.1,242.6 L288.1,242.1 L288.1,241.6 L288.1,241.1 L288.1,240.6 L288.0,240.1 L288.0,239.6 L288.0,239.1 L288.0,238.6 L288.0,238.1 L288.0,237.6 L288.0,237.1 L288.0,236.6 L287.9,236.1 L287.9,235.6 L287.9,235.1 L287.9,234.6 L287.9,234.1 L287.9,233.6 L287.9,233.1 L287.8,232.6 L287.8,232.1 L287.8,231.6 L287.8,231.1 L287.8,230.6 L287.7,230.1 L287.7,229.6 L287.7,229.1 L287.7,228.6 L287.6,228.1 L287.6,227.6 L287.6,227.1 L287.5,226.6 L287.5,226.1 L287.5,225.6 L287.4,225.1 L287.4,224.6 L287.4,224.1 L287.4,223.6 L287.3,223.1 L287.3,222.6 L287.3,222.1 L287.2,221.6 L287.2,221.1 L287.2,220.6 L287.1,220.1 L287.1,219.6 L287.1,219.1 L287.0,218.6 L287.0,218.1 L287.0,217.6 L287.0,217.1 L286.9,216.6 L286.9,216.1 L286.9,215.6 L286.9,215.1 L286.9,214.6 L286.8,214.1 L286.8,213.6 L286.8,213.1 L286.8,212.6 L286.8,212.1 L286.7,211.6 L286.7,211.1 L286.7,210.6 L286.7,210.1 L286.7,209.6 L286.7,209.1 L286.7,208.6 L286.7,208.1 L286.7,207.6 L286.7,207.1 L286.7,206.6 L286.7,206.1 L286.7,205.6 L286.7,205.1 L286.7,204.6 L286.7,204.1 L286.7,203.6 L286.7,203.1 L286.7,202.6 L286.7,202.1 L286.6,201.6 L286.6,201.1 L286.6,200.6 L286.6,200.1 L286.6,199.6 L286.6,199.1 L286.6,198.6 L286.6,198.1 L286.6,197.6 L286.6,197.1 L286.6,196.6 L286.6,196.1 L286.6,195.6 L286.6,195.1 L286.6,194.6 L286.6,194.1 L286.6,193.6 L286.6,193.1 L286.6,192.6 L286.6,192.1 L286.6,191.6 L286.6,191.1 L286.6,190.6 L286.6,190.1 L286.6,189.6 L286.6,189.1 L286.6,188.6 L286.6,188.1 L286.7,187.6 L286.7,187.1 L286.7,186.6 L286.7,186.1 L286.7,185.6 L286.7,185.1 L286.7,184.6 L286.7,184.1 L286.7,183.6 L286.7,183.1 L286.7,182.6 L286.7,182.1 L286.7,181.6 L286.7,181.1 L286.7,180.6 L286.7,180.1 L286.7,179.6 L286.7,179.1 L286.7,178.6 L286.7,178.1 L286.7,177.6 L286.7,177.1 L286.7,176.6 L286.7,176.1 L286.7,175.6 L286.7,175.1 L286.7,174.6 L286.7,174.1 L286.8,173.6 L286.8,173.1 L286.8,172.6 L286.8,172.1 L286.8,171.6 L286.8,171.1 L286.8,170.6 L286.8,170.1 L286.9,169.6 L286.9,169.1 L286.9,168.6 L286.9,168.1 L286.9,167.6 L286.9,167.1 L286.9,166.6 L286.9,166.1 L287.0,165.6 L287.0,165.1 L287.0,164.6 L287.0,164.1 L287.0,163.6 L287.0,163.1 L287.0,162.6 L287.1,162.1 L287.1,161.6 L287.1,161.1 L287.1,160.6 L287.1,160.1 L287.2,159.6 L287.2,159.1 L287.2,158.6 L287.3,158.1 L287.3,157.6 L287.3,157.1 L287.3,156.6 L287.4,156.1 L287.4,155.6 L287.4,155.1 L287.4,154.6 L287.5,154.1 L287.5,153.6 L287.5,153.1 L287.5,152.6 L287.6,152.1 L287.6,151.6 L287.6,151.1 L287.6,150.6 L287.7,150.1 L287.7,149.6 L287.7,149.1 L287.8,148.6 L287.8,148.1 L287.8,147.6 L287.9,147.1 L287.9,146.6 L287.9,146.1 L288.0,145.6 L288.0,145.1 L288.0,144.6 L288.1,144.1 L288.1,143.6 L288.1,143.1 L288.1,142.6 L288.2,142.1 L288.2,141.6 L288.2,141.1 L288.3,140.6 L288.3,140.1 L288.3,139.6 L288.3,139.1 L288.4,138.6 L288.4,138.1 L288.4,137.6 L288.4,137.1 L288.5,136.6 L288.5,136.1 L288.5,135.6 L288.5,135.1 L288.6,134.6 L288.6,134.1 L288.6,133.6 L288.6,133.1 L288.6,132.6 L288.7,132.1 L288.7,131.6 L288.7,131.1 L288.7,130.6 L288.7,130.1 L288.7,129.6 L288.7,129.1 L288.7,128.6 L288.7,128.1 L288.7,127.6 L288.7,127.1 L288.7,126.6 L288.7,126.1 L288.7,125.6 L288.7,125.1 L288.7,124.6 L288.7,124.1 L288.7,123.6 L288.7,123.1 L288.6,122.6 L288.6,122.1 L288.6,121.6 L288.6,121.1 L288.5,120.6 L288.5,120.1 L288.5,119.6 L288.4,119.1 L288.4,118.6 L288.4,118.1 L288.3,117.6 L288.3,117.1 L288.3,116.6 L288.2,116.1 L288.2,115.6 L288.2,115.1 L288.1,114.6 L288.1,114.1 L288.1,113.6 L288.0,113.1 L288.0,112.6 L288.0,112.1 L287.9,111.6 L287.9,111.1 L287.9,110.6 L287.8,110.1 L287.8,109.6 L287.8,109.1 L287.7,108.6 L287.7,108.1 L287.7,107.6 L287.6,107.1 L287.6,106.6 L287.6,106.1 L287.6,105.6 L287.5,105.1 L287.5,104.6 L287.5,104.1 L287.4,103.6 L287.4,103.1 L287.4,102.6 L287.4,102.1 L287.3,101.6 L287.3,101.1 L287.3,100.6 L287.2,100.1 L287.2,99.6 L287.2,99.1 L287.1,98.6 L287.1,98.1 L287.1,97.6 L287.0,97.1 L287.0,96.6 L287.0,96.1 L287.0,95.6 L286.9,95.1 L286.9,94.6 L286.8,94.1 Z" fill="#679698" stroke="#3d3d3d" stroke-width="1.8" stroke-linejoin="round"/>
<line x1="286.65" y1="300" x2="286.65" y2="369.9" stroke="#3d3d3d" stroke-width="1.8"/>
<rect x="281.85" y="333.1" width="9.6" height="28.60" fill="#3d3d3d"/>
<circle cx="286.65" cy="342.0" r="3.4" fill="#fff"/>
<path d="M427.2,53.2 L427.2,53.7 L427.2,54.2 L427.2,54.7 L427.2,55.2 L427.2,55.7 L427.2,56.2 L427.2,56.7 L427.2,57.2 L427.2,57.7 L427.2,58.2 L427.2,58.7 L427.2,59.2 L427.2,59.7 L427.2,60.2 L427.2,60.7 L427.2,61.2 L427.2,61.7 L427.2,62.2 L427.2,62.7 L427.2,63.2 L427.2,63.7 L427.2,64.2 L427.2,64.7 L427.2,65.2 L427.2,65.7 L427.2,66.2 L427.2,66.7 L427.2,67.2 L427.2,67.7 L427.2,68.2 L427.3,68.7 L427.3,69.2 L427.3,69.7 L427.3,70.2 L427.3,70.7 L427.3,71.2 L427.3,71.7 L427.3,72.2 L427.3,72.7 L427.3,73.2 L427.3,73.7 L427.3,74.2 L427.3,74.7 L427.3,75.2 L427.4,75.7 L427.4,76.2 L427.4,76.7 L427.4,77.2 L427.4,77.7 L427.4,78.2 L427.4,78.7 L427.4,79.2 L427.4,79.7 L427.4,80.2 L427.4,80.7 L427.4,81.2 L427.4,81.7 L427.4,82.2 L427.4,82.7 L427.5,83.2 L427.5,83.7 L427.5,84.2 L427.5,84.7 L427.5,85.2 L427.5,85.7 L427.5,86.2 L427.5,86.7 L427.6,87.2 L427.6,87.7 L427.6,88.2 L427.6,88.7 L427.7,89.2 L427.7,89.7 L427.7,90.2 L427.7,90.7 L427.8,91.2 L427.8,91.7 L427.8,92.2 L427.8,92.7 L427.9,93.2 L427.9,93.7 L427.9,94.2 L428.0,94.7 L428.0,95.2 L428.0,95.7 L428.0,96.2 L428.1,96.7 L428.1,97.2 L428.1,97.7 L428.2,98.2 L428.2,98.7 L428.2,99.2 L428.2,99.7 L428.3,100.2 L428.3,100.7 L428.3,101.2 L428.3,101.7 L428.4,102.2 L428.4,102.7 L428.4,103.2 L428.4,103.7 L428.4,104.2 L428.5,104.7 L428.5,105.2 L428.5,105.7 L428.5,106.2 L428.5,106.7 L428.5,107.2 L428.6,107.7 L428.6,108.2 L428.6,108.7 L428.6,109.2 L428.6,109.7 L428.6,110.2 L428.6,110.7 L428.6,111.2 L428.7,111.7 L428.7,112.2 L428.7,112.7 L428.7,113.2 L428.7,113.7 L428.7,114.2 L428.7,114.7 L428.7,115.2 L428.7,115.7 L428.7,116.2 L428.8,116.7 L428.8,117.2 L428.8,117.7 L428.8,118.2 L428.8,118.7 L428.8,119.2 L428.8,119.7 L428.8,120.2 L428.8,120.7 L428.8,121.2 L428.9,121.7 L428.9,122.2 L428.9,122.7 L428.9,123.2 L428.9,123.7 L428.9,124.2 L428.9,124.7 L428.9,125.2 L428.9,125.7 L428.9,126.2 L428.9,126.7 L428.9,127.2 L428.9,127.7 L428.9,128.2 L428.9,128.7 L428.9,129.2 L428.9,129.7 L429.0,130.2 L429.0,130.7 L429.0,131.2 L429.0,131.7 L429.0,132.2 L429.0,132.7 L429.0,133.2 L429.0,133.7 L429.0,134.2 L429.0,134.7 L429.0,135.2 L429.0,135.7 L429.0,136.2 L429.0,136.7 L429.0,137.2 L429.0,137.7 L429.0,138.2 L429.0,138.7 L429.0,139.2 L429.0,139.7 L429.0,140.2 L429.0,140.7 L429.0,141.2 L429.0,141.7 L429.0,142.2 L429.0,142.7 L429.0,143.2 L429.0,143.7 L429.0,144.2 L429.0,144.7 L429.0,145.2 L429.0,145.7 L429.0,146.2 L429.0,146.7 L429.0,147.2 L429.0,147.7 L429.0,148.2 L429.0,148.7 L429.0,149.2 L429.0,149.7 L429.0,150.2 L429.0,150.7 L429.0,151.2 L429.0,151.7 L429.0,152.2 L429.0,152.7 L429.0,153.2 L429.0,153.7 L429.0,154.2 L429.0,154.7 L429.0,155.2 L429.0,155.7 L429.0,156.2 L429.0,156.7 L429.0,157.2 L429.0,157.7 L429.0,158.2 L429.0,158.7 L429.0,159.2 L429.0,159.7 L429.0,160.2 L429.0,160.7 L429.0,161.2 L429.0,161.7 L429.0,162.2 L429.0,162.7 L429.0,163.2 L429.0,163.7 L429.0,164.2 L429.0,164.7 L429.0,165.2 L429.0,165.7 L429.0,166.2 L429.0,166.7 L429.0,167.2 L429.0,167.7 L429.0,168.2 L429.0,168.7 L429.0,169.2 L429.0,169.7 L429.0,170.2 L429.0,170.7 L429.0,171.2 L429.0,171.7 L429.0,172.2 L429.0,172.7 L429.0,173.2 L429.0,173.7 L429.0,174.2 L429.0,174.7 L429.0,175.2 L429.0,175.7 L429.0,176.2 L429.0,176.7 L429.0,177.2 L429.0,177.7 L429.0,178.2 L429.0,178.7 L429.0,179.2 L429.0,179.7 L429.0,180.2 L429.0,180.7 L429.0,181.2 L429.0,181.7 L429.0,182.2 L429.0,182.7 L429.0,183.2 L429.0,183.7 L429.0,184.2 L429.0,184.7 L429.0,185.2 L429.0,185.7 L429.0,186.2 L429.0,186.7 L429.0,187.2 L429.0,187.7 L429.0,188.2 L429.0,188.7 L429.0,189.2 L429.0,189.7 L429.0,190.2 L429.0,190.7 L429.0,191.2 L429.0,191.7 L429.0,192.2 L429.0,192.7 L429.0,193.2 L429.0,193.7 L429.0,194.2 L429.0,194.7 L429.0,195.2 L429.0,195.7 L429.0,196.2 L429.0,196.7 L429.0,197.2 L429.0,197.7 L429.0,198.2 L429.0,198.7 L429.0,199.2 L429.0,199.7 L429.0,200.2 L429.0,200.7 L429.0,201.2 L429.0,201.7 L429.0,202.2 L429.0,202.7 L429.0,203.2 L429.0,203.7 L429.0,204.2 L429.0,204.7 L429.0,205.2 L429.0,205.7 L429.0,206.2 L429.0,206.7 L429.0,207.2 L429.0,207.7 L429.0,208.2 L429.0,208.7 L429.0,209.2 L429.0,209.7 L429.0,210.2 L429.0,210.7 L429.0,211.2 L429.0,211.7 L429.0,212.2 L429.0,212.7 L429.0,213.2 L429.0,213.7 L429.0,214.2 L429.0,214.7 L429.0,215.2 L429.0,215.7 L429.0,216.2 L429.0,216.7 L429.0,217.2 L429.0,217.7 L429.0,218.2 L429.0,218.7 L429.0,219.2 L429.0,219.7 L429.0,220.2 L429.0,220.7 L429.0,221.2 L429.0,221.7 L429.0,222.2 L429.0,222.7 L429.0,223.2 L429.0,223.7 L429.0,224.2 L429.0,224.7 L429.0,225.2 L429.0,225.7 L429.0,226.2 L429.0,226.7 L429.0,227.2 L429.0,227.7 L429.0,228.2 L429.0,228.7 L429.0,229.2 L429.0,229.7 L429.0,230.2 L429.0,230.7 L429.0,231.2 L429.0,231.7 L429.0,232.2 L429.0,232.7 L429.0,233.2 L429.0,233.7 L429.0,234.2 L429.0,234.7 L429.0,235.2 L429.0,235.7 L429.0,236.2 L429.0,236.7 L429.0,237.2 L428.9,237.7 L428.9,238.2 L428.9,238.7 L428.9,239.2 L428.9,239.7 L428.8,240.2 L428.8,240.7 L428.8,241.2 L428.8,241.7 L428.8,242.2 L428.7,242.7 L428.7,243.2 L428.7,243.7 L428.7,244.2 L428.7,244.7 L428.6,245.2 L428.6,245.7 L428.6,246.2 L428.6,246.7 L428.6,247.2 L428.5,247.7 L428.5,248.2 L428.5,248.7 L428.4,249.2 L428.4,249.7 L428.3,250.2 L428.3,250.7 L428.2,251.2 L428.2,251.7 L428.1,252.2 L428.1,252.7 L428.0,253.2 L428.0,253.7 L427.9,254.2 L427.9,254.7 L427.8,255.2 L427.7,255.7 L427.7,256.2 L427.6,256.7 L427.5,257.2 L427.5,257.7 L427.4,258.2 L427.3,258.7 L427.3,259.2 L427.2,259.7 L427.1,260.2 L427.0,260.7 L427.0,261.2 L426.9,261.7 L426.8,262.2 L426.7,262.7 L426.6,263.2 L426.5,263.7 L426.4,264.2 L426.3,264.7 L426.2,265.2 L426.1,265.7 L426.0,266.2 L425.9,266.7 L425.8,267.2 L425.7,267.7 L425.6,268.2 L425.5,268.7 L425.4,269.2 L425.2,269.7 L425.1,270.2 L425.0,270.7 L424.9,271.2 L424.7,271.7 L424.6,272.2 L424.5,272.7 L424.4,273.2 L424.2,273.7 L424.1,274.2 L424.0,274.7 L423.9,275.2 L423.7,275.7 L423.6,276.2 L423.5,276.7 L423.3,277.2 L423.2,277.7 L423.0,278.2 L422.9,278.7 L422.7,279.2 L422.6,279.7 L422.5,280.2 L422.3,280.7 L422.2,281.2 L422.0,281.7 L421.9,282.2 L421.7,282.7 L421.6,283.2 L421.4,283.7 L421.3,284.2 L421.1,284.7 L421.0,285.2 L420.8,285.7 L420.7,286.2 L420.5,286.7 L420.4,287.2 L420.2,287.7 L420.0,288.2 L419.9,288.7 L419.7,289.2 L419.5,289.7 L419.3,290.2 L419.2,290.7 L419.0,291.2 L418.8,291.7 L418.6,292.2 L418.4,292.7 L418.2,293.2 L418.0,293.7 L417.8,294.2 L417.5,294.7 L417.3,295.2 L417.1,295.7 L416.9,296.2 L416.7,296.7 L416.5,297.2 L416.3,297.7 L416.1,298.2 L415.9,298.7 L415.7,299.2 L415.5,299.7 L415.3,300.2 L415.0,300.7 L414.8,301.2 L414.5,301.7 L414.2,302.2 L414.0,302.7 L413.7,303.2 L413.4,303.7 L413.1,304.2 L412.8,304.7 L412.5,305.2 L412.2,305.7 L411.9,306.2 L411.6,306.7 L411.2,307.2 L410.9,307.7 L410.6,308.2 L410.3,308.7 L409.9,309.2 L409.6,309.7 L409.3,310.2 L408.9,310.7 L408.5,311.2 L408.2,311.7 L407.8,312.2 L407.4,312.7 L407.1,313.2 L406.7,313.7 L406.3,314.2 L405.9,314.7 L405.5,315.2 L405.0,315.7 L404.6,316.2 L404.2,316.7 L403.8,317.2 L403.3,317.7 L402.9,318.2 L402.5,318.7 L402.0,319.2 L401.6,319.7 L401.1,320.2 L400.7,320.7 L400.2,321.2 L399.7,321.7 L399.2,322.2 L398.8,322.7 L398.3,323.2 L397.8,323.7 L397.2,324.2 L396.7,324.7 L396.2,325.2 L395.7,325.7 L395.1,326.2 L394.6,326.7 L394.0,327.2 L393.5,327.7 L392.9,328.2 L392.3,328.7 L391.8,329.2 L391.2,329.7 L390.7,330.2 L390.1,330.7 L389.5,331.2 L389.0,331.7 L388.4,332.2 L387.9,332.7 L387.3,333.2 L386.7,333.7 L386.2,334.2 L385.6,334.7 L385.1,335.2 L384.6,335.7 L384.0,336.2 L383.5,336.7 L383.0,337.2 L382.4,337.7 L381.9,338.2 L381.4,338.7 L380.9,339.2 L380.4,339.7 L379.9,340.2 L379.4,340.7 L379.0,341.2 L378.5,341.7 L378.1,342.2 L377.7,342.7 L377.3,343.2 L376.9,343.7 L376.5,344.2 L376.2,344.7 L375.9,345.2 L375.5,345.7 L375.2,346.2 L374.9,346.7 L374.6,347.2 L374.4,347.7 L374.1,348.2 L373.9,348.7 L373.6,349.2 L373.4,349.7 L373.2,350.2 L373.1,350.7 L372.9,351.2 L372.8,351.7 L372.6,352.2 L372.5,352.7 L372.5,353.2 L372.4,353.7 L372.3,354.2 L372.3,354.7 L372.3,355.2 L372.3,355.7 L372.3,356.2 L372.3,356.7 L372.4,357.2 L372.5,357.7 L372.5,358.2 L372.6,358.7 L372.8,359.2 L372.9,359.7 L373.1,360.2 L373.4,360.7 L373.6,361.2 L373.9,361.7 L374.2,362.2 L374.5,362.7 L374.8,363.2 L375.2,363.7 L375.6,364.2 L376.0,364.7 L376.4,365.2 L376.9,365.7 L377.4,366.2 L377.9,366.7 L378.4,367.2 L379.0,367.7 L379.5,368.2 L380.1,368.7 L380.8,369.2 L381.4,369.7 L382.1,370.2 L382.8,370.7 L383.5,371.2 L384.2,371.7 L384.8,372.2 L385.5,372.7 L386.2,373.2 L386.8,373.7 L387.5,374.2 L388.1,374.7 L388.8,375.2 L389.5,375.7 L390.2,376.2 L390.9,376.7 L391.6,377.2 L392.3,377.7 L393.0,378.2 L393.7,378.7 L394.4,379.2 L395.1,379.7 L395.8,380.2 L396.6,380.7 L397.3,381.2 L398.0,381.7 L398.7,382.2 L399.3,382.7 L400.0,383.2 L400.7,383.7 L401.4,384.2 L402.1,384.7 L402.8,385.2 L403.5,385.7 L404.2,386.2 L404.9,386.7 L405.5,387.2 L406.2,387.7 L406.9,388.2 L407.6,388.7 L408.2,389.2 L408.9,389.7 L409.5,390.2 L410.1,390.7 L410.7,391.2 L411.3,391.7 L411.9,392.2 L412.5,392.7 L413.1,393.2 L413.6,393.7 L414.2,394.2 L414.7,394.7 L415.2,395.2 L415.7,395.7 L416.2,396.2 L416.6,396.7 L417.1,397.2 L417.5,397.7 L417.9,398.2 L418.3,398.7 L418.7,399.2 L419.1,399.7 L419.5,400.2 L419.9,400.7 L420.2,401.2 L420.6,401.7 L420.9,402.2 L421.3,402.7 L421.6,403.2 L421.9,403.7 L422.3,404.2 L422.6,404.7 L422.9,405.2 L423.2,405.7 L423.5,406.2 L423.8,406.7 L424.0,407.2 L424.3,407.7 L424.6,408.2 L424.8,408.7 L425.1,409.2 L425.3,409.7 L425.6,410.2 L425.8,410.7 L426.0,411.2 L426.2,411.7 L426.4,412.2 L426.6,412.7 L426.7,413.2 L426.9,413.7 L427.0,414.2 L427.2,414.7 L427.3,415.2 L427.4,415.7 L427.6,416.2 L427.7,416.7 L427.7,417.1 L430.3,417.1 L430.3,416.7 L430.4,416.2 L430.6,415.7 L430.7,415.2 L430.8,414.7 L431.0,414.2 L431.1,413.7 L431.3,413.2 L431.4,412.7 L431.6,412.2 L431.8,411.7 L432.0,411.2 L432.2,410.7 L432.4,410.2 L432.7,409.7 L432.9,409.2 L433.2,408.7 L433.4,408.2 L433.7,407.7 L434.0,407.2 L434.2,406.7 L434.5,406.2 L434.8,405.7 L435.1,405.2 L435.4,404.7 L435.7,404.2 L436.1,403.7 L436.4,403.2 L436.7,402.7 L437.1,402.2 L437.4,401.7 L437.8,401.2 L438.1,400.7 L438.5,400.2 L438.9,399.7 L439.3,399.2 L439.7,398.7 L440.1,398.2 L440.5,397.7 L440.9,397.2 L441.4,396.7 L441.8,396.2 L442.3,395.7 L442.8,395.2 L443.3,394.7 L443.8,394.2 L444.4,393.7 L444.9,393.2 L445.5,392.7 L446.1,392.2 L446.7,391.7 L447.3,391.2 L447.9,390.7 L448.5,390.2 L449.1,389.7 L449.8,389.2 L450.4,388.7 L451.1,388.2 L451.8,387.7 L452.5,387.2 L453.1,386.7 L453.8,386.2 L454.5,385.7 L455.2,385.2 L455.9,384.7 L456.6,384.2 L457.3,383.7 L458.0,383.2 L458.7,382.7 L459.3,382.2 L460.0,381.7 L460.7,381.2 L461.4,380.7 L462.2,380.2 L462.9,379.7 L463.6,379.2 L464.3,378.7 L465.0,378.2 L465.7,377.7 L466.4,377.2 L467.1,376.7 L467.8,376.2 L468.5,375.7 L469.2,375.2 L469.9,374.7 L470.5,374.2 L471.2,373.7 L471.8,373.2 L472.5,372.7 L473.2,372.2 L473.8,371.7 L474.5,371.2 L475.2,370.7 L475.9,370.2 L476.6,369.7 L477.2,369.2 L477.9,368.7 L478.5,368.2 L479.0,367.7 L479.6,367.2 L480.1,366.7 L480.6,366.2 L481.1,365.7 L481.6,365.2 L482.0,364.7 L482.4,364.2 L482.8,363.7 L483.2,363.2 L483.5,362.7 L483.8,362.2 L484.1,361.7 L484.4,361.2 L484.6,360.7 L484.9,360.2 L485.1,359.7 L485.2,359.2 L485.4,358.7 L485.5,358.2 L485.5,357.7 L485.6,357.2 L485.7,356.7 L485.7,356.2 L485.7,355.7 L485.7,355.2 L485.7,354.7 L485.7,354.2 L485.6,353.7 L485.5,353.2 L485.5,352.7 L485.4,352.2 L485.2,351.7 L485.1,351.2 L484.9,350.7 L484.8,350.2 L484.6,349.7 L484.4,349.2 L484.1,348.7 L483.9,348.2 L483.6,347.7 L483.4,347.2 L483.1,346.7 L482.8,346.2 L482.5,345.7 L482.1,345.2 L481.8,344.7 L481.5,344.2 L481.1,343.7 L480.7,343.2 L480.3,342.7 L479.9,342.2 L479.5,341.7 L479.0,341.2 L478.6,340.7 L478.1,340.2 L477.6,339.7 L477.1,339.2 L476.6,338.7 L476.1,338.2 L475.6,337.7 L475.0,337.2 L474.5,336.7 L474.0,336.2 L473.4,335.7 L472.9,335.2 L472.4,334.7 L471.8,334.2 L471.3,333.7 L470.7,333.2 L470.1,332.7 L469.6,332.2 L469.0,331.7 L468.5,331.2 L467.9,330.7 L467.3,330.2 L466.8,329.7 L466.2,329.2 L465.7,328.7 L465.1,328.2 L464.5,327.7 L464.0,327.2 L463.4,326.7 L462.9,326.2 L462.3,325.7 L461.8,325.2 L461.3,324.7 L460.8,324.2 L460.2,323.7 L459.7,323.2 L459.2,322.7 L458.8,322.2 L458.3,321.7 L457.8,321.2 L457.3,320.7 L456.9,320.2 L456.4,319.7 L456.0,319.2 L455.5,318.7 L455.1,318.2 L454.7,317.7 L454.2,317.2 L453.8,316.7 L453.4,316.2 L453.0,315.7 L452.5,315.2 L452.1,314.7 L451.7,314.2 L451.3,313.7 L450.9,313.2 L450.6,312.7 L450.2,312.2 L449.8,311.7 L449.5,311.2 L449.1,310.7 L448.7,310.2 L448.4,309.7 L448.1,309.2 L447.7,308.7 L447.4,308.2 L447.1,307.7 L446.8,307.2 L446.4,306.7 L446.1,306.2 L445.8,305.7 L445.5,305.2 L445.2,304.7 L444.9,304.2 L444.6,303.7 L444.3,303.2 L444.0,302.7 L443.8,302.2 L443.5,301.7 L443.2,301.2 L443.0,300.7 L442.7,300.2 L442.5,299.7 L442.3,299.2 L442.1,298.7 L441.9,298.2 L441.7,297.7 L441.5,297.2 L441.3,296.7 L441.1,296.2 L440.9,295.7 L440.7,295.2 L440.5,294.7 L440.2,294.2 L440.0,293.7 L439.8,293.2 L439.6,292.7 L439.4,292.2 L439.2,291.7 L439.0,291.2 L438.8,290.7 L438.7,290.2 L438.5,289.7 L438.3,289.2 L438.1,288.7 L438.0,288.2 L437.8,287.7 L437.6,287.2 L437.5,286.7 L437.3,286.2 L437.2,285.7 L437.0,285.2 L436.9,284.7 L436.7,284.2 L436.6,283.7 L436.4,283.2 L436.3,282.7 L436.1,282.2 L436.0,281.7 L435.8,281.2 L435.7,280.7 L435.5,280.2 L435.4,279.7 L435.3,279.2 L435.1,278.7 L435.0,278.2 L434.8,277.7 L434.7,277.2 L434.5,276.7 L434.4,276.2 L434.3,275.7 L434.1,275.2 L434.0,274.7 L433.9,274.2 L433.8,273.7 L433.6,273.2 L433.5,272.7 L433.4,272.2 L433.3,271.7 L433.1,271.2 L433.0,270.7 L432.9,270.2 L432.8,269.7 L432.6,269.2 L432.5,268.7 L432.4,268.2 L432.3,267.7 L432.2,267.2 L432.1,266.7 L432.0,266.2 L431.9,265.7 L431.8,265.2 L431.7,264.7 L431.6,264.2 L431.5,263.7 L431.4,263.2 L431.3,262.7 L431.2,262.2 L431.1,261.7 L431.0,261.2 L431.0,260.7 L430.9,260.2 L430.8,259.7 L430.7,259.2 L430.7,258.7 L430.6,258.2 L430.5,257.7 L430.5,257.2 L430.4,256.7 L430.3,256.2 L430.3,255.7 L430.2,255.2 L430.1,254.7 L430.1,254.2 L430.0,253.7 L430.0,253.2 L429.9,252.7 L429.9,252.2 L429.8,251.7 L429.8,251.2 L429.7,250.7 L429.7,250.2 L429.6,249.7 L429.6,249.2 L429.5,248.7 L429.5,248.2 L429.5,247.7 L429.4,247.2 L429.4,246.7 L429.4,246.2 L429.4,245.7 L429.4,245.2 L429.3,244.7 L429.3,244.2 L429.3,243.7 L429.3,243.2 L429.3,242.7 L429.2,242.2 L429.2,241.7 L429.2,241.2 L429.2,240.7 L429.2,240.2 L429.1,239.7 L429.1,239.2 L429.1,238.7 L429.1,238.2 L429.1,237.7 L429.0,237.2 L429.0,236.7 L429.0,236.2 L429.0,235.7 L429.0,235.2 L429.0,234.7 L429.0,234.2 L429.0,233.7 L429.0,233.2 L429.0,232.7 L429.0,232.2 L429.0,231.7 L429.0,231.2 L429.0,230.7 L429.0,230.2 L429.0,229.7 L429.0,229.2 L429.0,228.7 L429.0,228.2 L429.0,227.7 L429.0,227.2 L429.0,226.7 L429.0,226.2 L429.0,225.7 L429.0,225.2 L429.0,224.7 L429.0,224.2 L429.0,223.7 L429.0,223.2 L429.0,222.7 L429.0,222.2 L429.0,221.7 L429.0,221.2 L429.0,220.7 L429.0,220.2 L429.0,219.7 L429.0,219.2 L429.0,218.7 L429.0,218.2 L429.0,217.7 L429.0,217.2 L429.0,216.7 L429.0,216.2 L429.0,215.7 L429.0,215.2 L429.0,214.7 L429.0,214.2 L429.0,213.7 L429.0,213.2 L429.0,212.7 L429.0,212.2 L429.0,211.7 L429.0,211.2 L429.0,210.7 L429.0,210.2 L429.0,209.7 L429.0,209.2 L429.0,208.7 L429.0,208.2 L429.0,207.7 L429.0,207.2 L429.0,206.7 L429.0,206.2 L429.0,205.7 L429.0,205.2 L429.0,204.7 L429.0,204.2 L429.0,203.7 L429.0,203.2 L429.0,202.7 L429.0,202.2 L429.0,201.7 L429.0,201.2 L429.0,200.7 L429.0,200.2 L429.0,199.7 L429.0,199.2 L429.0,198.7 L429.0,198.2 L429.0,197.7 L429.0,197.2 L429.0,196.7 L429.0,196.2 L429.0,195.7 L429.0,195.2 L429.0,194.7 L429.0,194.2 L429.0,193.7 L429.0,193.2 L429.0,192.7 L429.0,192.2 L429.0,191.7 L429.0,191.2 L429.0,190.7 L429.0,190.2 L429.0,189.7 L429.0,189.2 L429.0,188.7 L429.0,188.2 L429.0,187.7 L429.0,187.2 L429.0,186.7 L429.0,186.2 L429.0,185.7 L429.0,185.2 L429.0,184.7 L429.0,184.2 L429.0,183.7 L429.0,183.2 L429.0,182.7 L429.0,182.2 L429.0,181.7 L429.0,181.2 L429.0,180.7 L429.0,180.2 L429.0,179.7 L429.0,179.2 L429.0,178.7 L429.0,178.2 L429.0,177.7 L429.0,177.2 L429.0,176.7 L429.0,176.2 L429.0,175.7 L429.0,175.2 L429.0,174.7 L429.0,174.2 L429.0,173.7 L429.0,173.2 L429.0,172.7 L429.0,172.2 L429.0,171.7 L429.0,171.2 L429.0,170.7 L429.0,170.2 L429.0,169.7 L429.0,169.2 L429.0,168.7 L429.0,168.2 L429.0,167.7 L429.0,167.2 L429.0,166.7 L429.0,166.2 L429.0,165.7 L429.0,165.2 L429.0,164.7 L429.0,164.2 L429.0,163.7 L429.0,163.2 L429.0,162.7 L429.0,162.2 L429.0,161.7 L429.0,161.2 L429.0,160.7 L429.0,160.2 L429.0,159.7 L429.0,159.2 L429.0,158.7 L429.0,158.2 L429.0,157.7 L429.0,157.2 L429.0,156.7 L429.0,156.2 L429.0,155.7 L429.0,155.2 L429.0,154.7 L429.0,154.2 L429.0,153.7 L429.0,153.2 L429.0,152.7 L429.0,152.2 L429.0,151.7 L429.0,151.2 L429.0,150.7 L429.0,150.2 L429.0,149.7 L429.0,149.2 L429.0,148.7 L429.0,148.2 L429.0,147.7 L429.0,147.2 L429.0,146.7 L429.0,146.2 L429.0,145.7 L429.0,145.2 L429.0,144.7 L429.0,144.2 L429.0,143.7 L429.0,143.2 L429.0,142.7 L429.0,142.2 L429.0,141.7 L429.0,141.2 L429.0,140.7 L429.0,140.2 L429.0,139.7 L429.0,139.2 L429.0,138.7 L429.0,138.2 L429.0,137.7 L429.0,137.2 L429.0,136.7 L429.0,136.2 L429.0,135.7 L429.0,135.2 L429.0,134.7 L429.0,134.2 L429.0,133.7 L429.0,133.2 L429.0,132.7 L429.0,132.2 L429.0,131.7 L429.0,131.2 L429.0,130.7 L429.0,130.2 L429.1,129.7 L429.1,129.2 L429.1,128.7 L429.1,128.2 L429.1,127.7 L429.1,127.2 L429.1,126.7 L429.1,126.2 L429.1,125.7 L429.1,125.2 L429.1,124.7 L429.1,124.2 L429.1,123.7 L429.1,123.2 L429.1,122.7 L429.1,122.2 L429.1,121.7 L429.2,121.2 L429.2,120.7 L429.2,120.2 L429.2,119.7 L429.2,119.2 L429.2,118.7 L429.2,118.2 L429.2,117.7 L429.2,117.2 L429.2,116.7 L429.3,116.2 L429.3,115.7 L429.3,115.2 L429.3,114.7 L429.3,114.2 L429.3,113.7 L429.3,113.2 L429.3,112.7 L429.3,112.2 L429.3,111.7 L429.4,111.2 L429.4,110.7 L429.4,110.2 L429.4,109.7 L429.4,109.2 L429.4,108.7 L429.4,108.2 L429.4,107.7 L429.5,107.2 L429.5,106.7 L429.5,106.2 L429.5,105.7 L429.5,105.2 L429.5,104.7 L429.6,104.2 L429.6,103.7 L429.6,103.2 L429.6,102.7 L429.6,102.2 L429.7,101.7 L429.7,101.2 L429.7,100.7 L429.7,100.2 L429.8,99.7 L429.8,99.2 L429.8,98.7 L429.8,98.2 L429.9,97.7 L429.9,97.2 L429.9,96.7 L430.0,96.2 L430.0,95.7 L430.0,95.2 L430.0,94.7 L430.1,94.2 L430.1,93.7 L430.1,93.2 L430.2,92.7 L430.2,92.2 L430.2,91.7 L430.2,91.2 L430.3,90.7 L430.3,90.2 L430.3,89.7 L430.3,89.2 L430.4,88.7 L430.4,88.2 L430.4,87.7 L430.4,87.2 L430.5,86.7 L430.5,86.2 L430.5,85.7 L430.5,85.2 L430.5,84.7 L430.5,84.2 L430.5,83.7 L430.5,83.2 L430.6,82.7 L430.6,82.2 L430.6,81.7 L430.6,81.2 L430.6,80.7 L430.6,80.2 L430.6,79.7 L430.6,79.2 L430.6,78.7 L430.6,78.2 L430.6,77.7 L430.6,77.2 L430.6,76.7 L430.6,76.2 L430.6,75.7 L430.7,75.2 L430.7,74.7 L430.7,74.2 L430.7,73.7 L430.7,73.2 L430.7,72.7 L430.7,72.2 L430.7,71.7 L430.7,71.2 L430.7,70.7 L430.7,70.2 L430.7,69.7 L430.7,69.2 L430.7,68.7 L430.8,68.2 L430.8,67.7 L430.8,67.2 L430.8,66.7 L430.8,66.2 L430.8,65.7 L430.8,65.2 L430.8,64.7 L430.8,64.2 L430.8,63.7 L430.8,63.2 L430.8,62.7 L430.8,62.2 L430.8,61.7 L430.8,61.2 L430.8,60.7 L430.8,60.2 L430.8,59.7 L430.8,59.2 L430.8,58.7 L430.8,58.2 L430.8,57.7 L430.8,57.2 L430.8,56.7 L430.8,56.2 L430.8,55.7 L430.8,55.2 L430.8,54.7 L430.8,54.2 L430.8,53.7 L430.8,53.2 Z" fill="#679698" stroke="#3d3d3d" stroke-width="1.8" stroke-linejoin="round"/>
<line x1="429.0" y1="301.3" x2="429.0" y2="372.8" stroke="#3d3d3d" stroke-width="1.8"/>
<rect x="424.20" y="336.5" width="9.6" height="25.20" fill="#3d3d3d"/>
<circle cx="429.0" cy="354.0" r="3.4" fill="#fff"/>
<path d="M571.3,133.1 L571.3,133.6 L571.3,134.1 L571.3,134.6 L571.3,135.1 L571.2,135.6 L571.2,136.1 L571.2,136.6 L571.2,137.1 L571.1,137.6 L571.1,138.1 L571.1,138.6 L571.0,139.1 L571.0,139.6 L571.0,140.1 L570.9,140.6 L570.9,141.1 L570.8,141.6 L570.8,142.1 L570.8,142.6 L570.7,143.1 L570.7,143.6 L570.6,144.1 L570.6,144.6 L570.6,145.1 L570.5,145.6 L570.5,146.1 L570.4,146.6 L570.4,147.1 L570.4,147.6 L570.3,148.1 L570.3,148.6 L570.3,149.1 L570.2,149.6 L570.2,150.1 L570.2,150.6 L570.1,151.1 L570.1,151.6 L570.1,152.1 L570.0,152.6 L570.0,153.1 L570.0,153.6 L569.9,154.1 L569.9,154.6 L569.9,155.1 L569.8,155.6 L569.8,156.1 L569.8,156.6 L569.8,157.1 L569.8,157.6 L569.7,158.1 L569.7,158.6 L569.7,159.1 L569.7,159.6 L569.7,160.1 L569.7,160.6 L569.7,161.1 L569.7,161.6 L569.7,162.1 L569.7,162.6 L569.7,163.1 L569.7,163.6 L569.7,164.1 L569.7,164.6 L569.7,165.1 L569.7,165.6 L569.7,166.1 L569.7,166.6 L569.8,167.1 L569.8,167.6 L569.8,168.1 L569.8,168.6 L569.9,169.1 L569.9,169.6 L569.9,170.1 L569.9,170.6 L570.0,171.1 L570.0,171.6 L570.0,172.1 L570.1,172.6 L570.1,173.1 L570.1,173.6 L570.2,174.1 L570.2,174.6 L570.2,175.1 L570.3,175.6 L570.3,176.1 L570.3,176.6 L570.3,177.1 L570.4,177.6 L570.4,178.1 L570.4,178.6 L570.5,179.1 L570.5,179.6 L570.5,180.1 L570.5,180.6 L570.6,181.1 L570.6,181.6 L570.6,182.1 L570.7,182.6 L570.7,183.1 L570.7,183.6 L570.7,184.1 L570.8,184.6 L570.8,185.1 L570.8,185.6 L570.8,186.1 L570.9,186.6 L570.9,187.1 L570.9,187.6 L570.9,188.1 L571.0,188.6 L571.0,189.1 L571.0,189.6 L571.0,190.1 L571.1,190.6 L571.1,191.1 L571.1,191.6 L571.2,192.1 L571.2,192.6 L571.2,193.1 L571.2,193.6 L571.2,194.1 L571.3,194.6 L571.3,195.1 L571.3,195.6 L571.3,196.1 L571.3,196.6 L571.4,197.1 L571.4,197.6 L571.4,198.1 L571.4,198.6 L571.4,199.1 L571.4,199.6 L571.4,200.1 L571.5,200.6 L571.5,201.1 L571.5,201.6 L571.5,202.1 L571.5,202.6 L571.5,203.1 L571.5,203.6 L571.5,204.1 L571.5,204.6 L571.5,205.1 L571.5,205.6 L571.5,206.1 L571.5,206.6 L571.5,207.1 L571.5,207.6 L571.5,208.1 L571.5,208.6 L571.5,209.1 L571.5,209.6 L571.5,210.1 L571.5,210.6 L571.5,211.1 L571.5,211.6 L571.5,212.1 L571.5,212.6 L571.5,213.1 L571.5,213.6 L571.5,214.1 L571.5,214.6 L571.5,215.1 L571.5,215.6 L571.5,216.1 L571.5,216.6 L571.5,217.1 L571.5,217.6 L571.5,218.1 L571.5,218.6 L571.5,219.1 L571.5,219.6 L571.5,220.1 L571.5,220.6 L571.5,221.1 L571.5,221.6 L571.5,222.1 L571.5,222.6 L571.5,223.1 L571.5,223.6 L571.5,224.1 L571.5,224.6 L571.5,225.1 L571.5,225.6 L571.5,226.1 L571.5,226.6 L571.5,227.1 L571.5,227.6 L571.5,228.1 L571.5,228.6 L571.5,229.1 L571.5,229.6 L571.5,230.1 L571.5,230.6 L571.5,231.1 L571.5,231.6 L571.5,232.1 L571.5,232.6 L571.5,233.1 L571.5,233.6 L571.5,234.1 L571.5,234.6 L571.5,235.1 L571.5,235.6 L571.5,236.1 L571.5,236.6 L571.5,237.1 L571.5,237.6 L571.5,238.1 L571.5,238.6 L571.5,239.1 L571.5,239.6 L571.5,240.1 L571.5,240.6 L571.5,241.1 L571.5,241.6 L571.5,242.1 L571.5,242.6 L571.5,243.1 L571.5,243.6 L571.5,244.1 L571.5,244.6 L571.5,245.1 L571.5,245.6 L571.5,246.1 L571.5,246.6 L571.5,247.1 L571.5,247.6 L571.5,248.1 L571.5,248.6 L571.5,249.1 L571.5,249.6 L571.5,250.1 L571.5,250.6 L571.5,251.1 L571.5,251.6 L571.5,252.1 L571.5,252.6 L571.4,253.1 L571.4,253.6 L571.4,254.1 L571.4,254.6 L571.3,255.1 L571.3,255.6 L571.2,256.1 L571.2,256.6 L571.2,257.1 L571.1,257.6 L571.1,258.1 L571.0,258.6 L570.9,259.1 L570.9,259.6 L570.8,260.1 L570.8,260.6 L570.7,261.1 L570.7,261.6 L570.6,262.1 L570.6,262.6 L570.6,263.1 L570.5,263.6 L570.5,264.1 L570.4,264.6 L570.4,265.1 L570.3,265.6 L570.3,266.1 L570.3,266.6 L570.2,267.1 L570.2,267.6 L570.2,268.1 L570.1,268.6 L570.1,269.1 L570.1,269.6 L570.1,270.1 L570.0,270.6 L570.0,271.1 L570.0,271.6 L570.0,272.1 L570.0,272.6 L569.9,273.1 L569.9,273.6 L569.9,274.1 L569.9,274.6 L569.9,275.1 L569.9,275.6 L569.9,276.1 L569.8,276.6 L569.8,277.1 L569.8,277.6 L569.8,278.1 L569.8,278.6 L569.8,279.1 L569.8,279.6 L569.8,280.1 L569.8,280.6 L569.8,281.1 L569.8,281.6 L569.8,282.1 L569.8,282.6 L569.8,283.1 L569.8,283.6 L569.7,284.1 L569.7,284.6 L569.7,285.1 L569.7,285.6 L569.7,286.1 L569.7,286.6 L569.7,287.1 L569.7,287.6 L569.6,288.1 L569.6,288.6 L569.6,289.1 L569.6,289.6 L569.6,290.1 L569.6,290.6 L569.6,291.1 L569.6,291.6 L569.6,292.1 L569.6,292.6 L569.6,293.1 L569.6,293.6 L569.6,294.1 L569.6,294.6 L569.6,295.1 L569.6,295.6 L569.6,296.1 L569.6,296.6 L569.6,297.1 L569.6,297.6 L569.6,298.1 L569.5,298.6 L569.5,299.1 L569.5,299.6 L569.4,300.1 L569.4,300.6 L569.3,301.1 L569.3,301.6 L569.2,302.1 L569.1,302.6 L569.0,303.1 L568.9,303.6 L568.8,304.1 L568.7,304.6 L568.6,305.1 L568.5,305.6 L568.4,306.1 L568.2,306.6 L568.1,307.1 L568.0,307.6 L567.8,308.1 L567.7,308.6 L567.5,309.1 L567.4,309.6 L567.2,310.1 L567.0,310.6 L566.8,311.1 L566.6,311.6 L566.4,312.1 L566.2,312.6 L565.9,313.1 L565.7,313.6 L565.4,314.1 L565.1,314.6 L564.9,315.1 L564.6,315.6 L564.3,316.1 L563.9,316.6 L563.6,317.1 L563.3,317.6 L562.9,318.1 L562.5,318.6 L562.1,319.1 L561.7,319.6 L561.3,320.1 L560.8,320.6 L560.4,321.1 L559.9,321.6 L559.4,322.1 L558.9,322.6 L558.3,323.1 L557.7,323.6 L557.1,324.1 L556.5,324.6 L555.9,325.1 L555.2,325.6 L554.5,326.1 L553.8,326.6 L553.1,327.1 L552.4,327.6 L551.6,328.1 L550.9,328.6 L550.2,329.1 L549.5,329.6 L548.8,330.1 L548.1,330.6 L547.4,331.1 L546.7,331.6 L546.0,332.1 L545.3,332.6 L544.6,333.1 L543.9,333.6 L543.2,334.1 L542.4,334.6 L541.7,335.1 L540.9,335.6 L540.1,336.1 L539.4,336.6 L538.6,337.1 L537.8,337.6 L537.0,338.1 L536.3,338.6 L535.5,339.1 L534.8,339.6 L534.0,340.1 L533.3,340.6 L532.6,341.1 L531.8,341.6 L531.1,342.1 L530.3,342.6 L529.6,343.1 L528.9,343.6 L528.1,344.1 L527.4,344.6 L526.7,345.1 L526.0,345.6 L525.3,346.1 L524.6,346.6 L523.9,347.1 L523.3,347.6 L522.6,348.1 L522.0,348.6 L521.4,349.1 L520.8,349.6 L520.3,350.1 L519.7,350.6 L519.2,351.1 L518.7,351.6 L518.2,352.1 L517.7,352.6 L517.3,353.1 L516.9,353.6 L516.5,354.1 L516.2,354.6 L515.9,355.1 L515.6,355.6 L515.4,356.1 L515.2,356.6 L515.0,357.1 L514.9,357.6 L514.8,358.1 L514.7,358.6 L514.7,359.1 L514.7,359.6 L514.7,360.1 L514.8,360.6 L514.8,361.1 L514.9,361.6 L515.0,362.1 L515.2,362.6 L515.4,363.1 L515.7,363.6 L516.0,364.1 L516.4,364.6 L516.8,365.1 L517.3,365.6 L517.8,366.1 L518.3,366.6 L518.9,367.1 L519.5,367.6 L520.1,368.1 L520.8,368.6 L521.5,369.1 L522.3,369.6 L523.0,370.1 L523.8,370.6 L524.6,371.1 L525.5,371.6 L526.3,372.1 L527.1,372.6 L528.0,373.1 L528.8,373.6 L529.7,374.1 L530.6,374.6 L531.4,375.1 L532.3,375.6 L533.1,376.1 L534.0,376.6 L534.9,377.1 L535.8,377.6 L536.7,378.1 L537.6,378.6 L538.6,379.1 L539.5,379.6 L540.5,380.1 L541.5,380.6 L542.5,381.1 L543.5,381.6 L544.5,382.1 L545.5,382.6 L546.5,383.1 L547.5,383.6 L548.5,384.1 L549.4,384.6 L550.4,385.1 L551.3,385.6 L552.2,386.1 L553.0,386.6 L553.9,387.1 L554.7,387.6 L555.4,388.1 L556.2,388.6 L556.9,389.1 L557.6,389.6 L558.3,390.1 L558.9,390.6 L559.5,391.1 L560.1,391.6 L560.7,392.1 L561.3,392.6 L561.8,393.1 L562.3,393.6 L562.8,394.1 L563.3,394.6 L563.7,395.1 L564.1,395.6 L564.5,396.1 L564.9,396.6 L565.3,397.1 L565.6,397.6 L565.9,398.1 L566.2,398.6 L566.5,399.1 L566.8,399.6 L567.1,400.1 L567.3,400.6 L567.6,401.1 L567.8,401.6 L568.0,402.1 L568.3,402.6 L568.5,403.1 L568.7,403.6 L568.9,404.1 L569.1,404.6 L569.2,405.1 L569.4,405.6 L569.6,406.1 L569.7,406.6 L569.9,407.1 L570.0,407.6 L570.2,408.1 L570.3,408.6 L570.5,409.1 L570.6,409.6 L570.8,410.1 L570.9,410.6 L571.0,411.1 L571.1,411.6 L571.2,412.1 L571.3,412.6 L571.4,413.1 L571.4,413.6 L571.5,414.1 L571.5,414.6 L571.5,414.6 L571.6,414.1 L571.7,413.6 L571.7,413.1 L571.8,412.6 L571.9,412.1 L572.0,411.6 L572.1,411.1 L572.2,410.6 L572.3,410.1 L572.5,409.6 L572.6,409.1 L572.8,408.6 L572.9,408.1 L573.1,407.6 L573.2,407.1 L573.4,406.6 L573.5,406.1 L573.7,405.6 L573.9,405.1 L574.0,404.6 L574.2,404.1 L574.4,403.6 L574.6,403.1 L574.8,402.6 L575.1,402.1 L575.3,401.6 L575.5,401.1 L575.8,400.6 L576.0,400.1 L576.3,399.6 L576.6,399.1 L576.9,398.6 L577.2,398.1 L577.5,397.6 L577.8,397.1 L578.2,396.6 L578.6,396.1 L579.0,395.6 L579.4,395.1 L579.8,394.6 L580.3,394.1 L580.8,393.6 L581.3,393.1 L581.8,392.6 L582.4,392.1 L583.0,391.6 L583.6,391.1 L584.2,390.6 L584.8,390.1 L585.5,389.6 L586.2,389.1 L586.9,388.6 L587.7,388.1 L588.4,387.6 L589.2,387.1 L590.1,386.6 L590.9,386.1 L591.8,385.6 L592.7,385.1 L593.7,384.6 L594.6,384.1 L595.6,383.6 L596.6,383.1 L597.6,382.6 L598.6,382.1 L599.6,381.6 L600.6,381.1 L601.6,380.6 L602.6,380.1 L603.6,379.6 L604.5,379.1 L605.5,378.6 L606.4,378.1 L607.3,377.6 L608.2,377.1 L609.1,376.6 L610.0,376.1 L610.8,375.6 L611.7,375.1 L612.5,374.6 L613.4,374.1 L614.3,373.6 L615.1,373.1 L616.0,372.6 L616.8,372.1 L617.6,371.6 L618.5,371.1 L619.3,370.6 L620.1,370.1 L620.8,369.6 L621.6,369.1 L622.3,368.6 L623.0,368.1 L623.6,367.6 L624.2,367.1 L624.8,366.6 L625.3,366.1 L625.8,365.6 L626.3,365.1 L626.7,364.6 L627.1,364.1 L627.4,363.6 L627.7,363.1 L627.9,362.6 L628.1,362.1 L628.2,361.6 L628.3,361.1 L628.3,360.6 L628.4,360.1 L628.4,359.6 L628.4,359.1 L628.4,358.6 L628.3,358.1 L628.2,357.6 L628.1,357.1 L627.9,356.6 L627.7,356.1 L627.5,355.6 L627.2,355.1 L626.9,354.6 L626.6,354.1 L626.2,353.6 L625.8,353.1 L625.4,352.6 L624.9,352.1 L624.4,351.6 L623.9,351.1 L623.4,350.6 L622.8,350.1 L622.3,349.6 L621.7,349.1 L621.1,348.6 L620.5,348.1 L619.8,347.6 L619.2,347.1 L618.5,346.6 L617.8,346.1 L617.1,345.6 L616.4,345.1 L615.7,344.6 L615.0,344.1 L614.2,343.6 L613.5,343.1 L612.8,342.6 L612.0,342.1 L611.3,341.6 L610.5,341.1 L609.8,340.6 L609.1,340.1 L608.3,339.6 L607.6,339.1 L606.8,338.6 L606.1,338.1 L605.3,337.6 L604.5,337.1 L603.7,336.6 L603.0,336.1 L602.2,335.6 L601.4,335.1 L600.7,334.6 L599.9,334.1 L599.2,333.6 L598.5,333.1 L597.8,332.6 L597.1,332.1 L596.4,331.6 L595.7,331.1 L595.0,330.6 L594.3,330.1 L593.6,329.6 L592.9,329.1 L592.2,328.6 L591.5,328.1 L590.7,327.6 L590.0,327.1 L589.3,326.6 L588.6,326.1 L587.9,325.6 L587.2,325.1 L586.6,324.6 L586.0,324.1 L585.4,323.6 L584.8,323.1 L584.2,322.6 L583.7,322.1 L583.2,321.6 L582.7,321.1 L582.3,320.6 L581.8,320.1 L581.4,319.6 L581.0,319.1 L580.6,318.6 L580.2,318.1 L579.8,317.6 L579.5,317.1 L579.2,316.6 L578.8,316.1 L578.5,315.6 L578.2,315.1 L578.0,314.6 L577.7,314.1 L577.4,313.6 L577.2,313.1 L576.9,312.6 L576.7,312.1 L576.5,311.6 L576.3,311.1 L576.1,310.6 L575.9,310.1 L575.7,309.6 L575.6,309.1 L575.4,308.6 L575.3,308.1 L575.1,307.6 L575.0,307.1 L574.9,306.6 L574.7,306.1 L574.6,305.6 L574.5,305.1 L574.4,304.6 L574.3,304.1 L574.2,303.6 L574.1,303.1 L574.0,302.6 L573.9,302.1 L573.8,301.6 L573.8,301.1 L573.7,300.6 L573.7,300.1 L573.6,299.6 L573.6,299.1 L573.6,298.6 L573.5,298.1 L573.5,297.6 L573.5,297.1 L573.5,296.6 L573.5,296.1 L573.5,295.6 L573.5,295.1 L573.5,294.6 L573.5,294.1 L573.5,293.6 L573.5,293.1 L573.5,292.6 L573.5,292.1 L573.5,291.6 L573.5,291.1 L573.5,290.6 L573.5,290.1 L573.5,289.6 L573.5,289.1 L573.5,288.6 L573.5,288.1 L573.4,287.6 L573.4,287.1 L573.4,286.6 L573.4,286.1 L573.4,285.6 L573.4,285.1 L573.4,284.6 L573.4,284.1 L573.3,283.6 L573.3,283.1 L573.3,282.6 L573.3,282.1 L573.3,281.6 L573.3,281.1 L573.3,280.6 L573.3,280.1 L573.3,279.6 L573.3,279.1 L573.3,278.6 L573.3,278.1 L573.3,277.6 L573.3,277.1 L573.3,276.6 L573.2,276.1 L573.2,275.6 L573.2,275.1 L573.2,274.6 L573.2,274.1 L573.2,273.6 L573.2,273.1 L573.1,272.6 L573.1,272.1 L573.1,271.6 L573.1,271.1 L573.1,270.6 L573.0,270.1 L573.0,269.6 L573.0,269.1 L573.0,268.6 L572.9,268.1 L572.9,267.6 L572.9,267.1 L572.8,266.6 L572.8,266.1 L572.8,265.6 L572.7,265.1 L572.7,264.6 L572.6,264.1 L572.6,263.6 L572.5,263.1 L572.5,262.6 L572.5,262.1 L572.4,261.6 L572.4,261.1 L572.3,260.6 L572.3,260.1 L572.2,259.6 L572.2,259.1 L572.1,258.6 L572.0,258.1 L572.0,257.6 L571.9,257.1 L571.9,256.6 L571.9,256.1 L571.8,255.6 L571.8,255.1 L571.7,254.6 L571.7,254.1 L571.7,253.6 L571.7,253.1 L571.6,252.6 L571.6,252.1 L571.6,251.6 L571.6,251.1 L571.6,250.6 L571.6,250.1 L571.6,249.6 L571.6,249.1 L571.6,248.6 L571.6,248.1 L571.6,247.6 L571.6,247.1 L571.6,246.6 L571.6,246.1 L571.6,245.6 L571.6,245.1 L571.6,244.6 L571.6,244.1 L571.5,243.6 L571.5,243.1 L571.5,242.6 L571.5,242.1 L571.5,241.6 L571.5,241.1 L571.5,240.6 L571.5,240.1 L571.5,239.6 L571.5,239.1 L571.5,238.6 L571.5,238.1 L571.5,237.6 L571.5,237.1 L571.5,236.6 L571.5,236.1 L571.5,235.6 L571.5,235.1 L571.5,234.6 L571.5,234.1 L571.5,233.6 L571.5,233.1 L571.5,232.6 L571.5,232.1 L571.5,231.6 L571.5,231.1 L571.5,230.6 L571.5,230.1 L571.5,229.6 L571.5,229.1 L571.5,228.6 L571.5,228.1 L571.5,227.6 L571.5,227.1 L571.5,226.6 L571.5,226.1 L571.5,225.6 L571.5,225.1 L571.5,224.6 L571.5,224.1 L571.5,223.6 L571.5,223.1 L571.5,222.6 L571.5,222.1 L571.5,221.6 L571.5,221.1 L571.5,220.6 L571.5,220.1 L571.5,219.6 L571.5,219.1 L571.5,218.6 L571.5,218.1 L571.6,217.6 L571.6,217.1 L571.6,216.6 L571.6,216.1 L571.6,215.6 L571.6,215.1 L571.6,214.6 L571.6,214.1 L571.6,213.6 L571.6,213.1 L571.6,212.6 L571.6,212.1 L571.6,211.6 L571.6,211.1 L571.6,210.6 L571.6,210.1 L571.6,209.6 L571.6,209.1 L571.6,208.6 L571.6,208.1 L571.6,207.6 L571.6,207.1 L571.6,206.6 L571.6,206.1 L571.6,205.6 L571.6,205.1 L571.6,204.6 L571.6,204.1 L571.6,203.6 L571.6,203.1 L571.6,202.6 L571.6,202.1 L571.6,201.6 L571.6,201.1 L571.6,200.6 L571.7,200.1 L571.7,199.6 L571.7,199.1 L571.7,198.6 L571.7,198.1 L571.7,197.6 L571.7,197.1 L571.8,196.6 L571.8,196.1 L571.8,195.6 L571.8,195.1 L571.8,194.6 L571.9,194.1 L571.9,193.6 L571.9,193.1 L571.9,192.6 L571.9,192.1 L572.0,191.6 L572.0,191.1 L572.0,190.6 L572.1,190.1 L572.1,189.6 L572.1,189.1 L572.1,188.6 L572.2,188.1 L572.2,187.6 L572.2,187.1 L572.2,186.6 L572.3,186.1 L572.3,185.6 L572.3,185.1 L572.3,184.6 L572.4,184.1 L572.4,183.6 L572.4,183.1 L572.4,182.6 L572.5,182.1 L572.5,181.6 L572.5,181.1 L572.6,180.6 L572.6,180.1 L572.6,179.6 L572.6,179.1 L572.7,178.6 L572.7,178.1 L572.7,177.6 L572.8,177.1 L572.8,176.6 L572.8,176.1 L572.8,175.6 L572.9,175.1 L572.9,174.6 L572.9,174.1 L573.0,173.6 L573.0,173.1 L573.0,172.6 L573.1,172.1 L573.1,171.6 L573.1,171.1 L573.2,170.6 L573.2,170.1 L573.2,169.6 L573.2,169.1 L573.3,168.6 L573.3,168.1 L573.3,167.6 L573.3,167.1 L573.4,166.6 L573.4,166.1 L573.4,165.6 L573.4,165.1 L573.4,164.6 L573.4,164.1 L573.4,163.6 L573.4,163.1 L573.4,162.6 L573.4,162.1 L573.4,161.6 L573.4,161.1 L573.4,160.6 L573.4,160.1 L573.4,159.6 L573.4,159.1 L573.4,158.6 L573.4,158.1 L573.3,157.6 L573.3,157.1 L573.3,156.6 L573.3,156.1 L573.3,155.6 L573.2,155.1 L573.2,154.6 L573.2,154.1 L573.1,153.6 L573.1,153.1 L573.1,152.6 L573.0,152.1 L573.0,151.6 L573.0,151.1 L572.9,150.6 L572.9,150.1 L572.9,149.6 L572.8,149.1 L572.8,148.6 L572.8,148.1 L572.7,147.6 L572.7,147.1 L572.7,146.6 L572.6,146.1 L572.6,145.6 L572.5,145.1 L572.5,144.6 L572.5,144.1 L572.4,143.6 L572.4,143.1 L572.3,142.6 L572.3,142.1 L572.3,141.6 L572.2,141.1 L572.2,140.6 L572.1,140.1 L572.1,139.6 L572.1,139.1 L572.0,138.6 L572.0,138.1 L572.0,137.6 L571.9,137.1 L571.9,136.6 L571.9,136.1 L571.9,135.6 L571.8,135.1 L571.8,134.6 L571.8,134.1 L571.8,133.6 L571.8,133.1 Z" fill="#679698" stroke="#3d3d3d" stroke-width="1.8" stroke-linejoin="round"/>
<line x1="571.55" y1="328.8" x2="571.55" y2="372.8" stroke="#3d3d3d" stroke-width="1.8"/>
<rect x="566.75" y="346.2" width="9.6" height="20.10" fill="#3d3d3d"/>
<circle cx="571.55" cy="357.6" r="3.4" fill="#fff"/>
<rect x="73.0" y="7.2" width="569.9" height="456.40000000000003" fill="none" stroke="#000" stroke-width="2"/>
<line x1="64" y1="463.60" x2="73.0" y2="463.60" stroke="#000" stroke-width="2"/>
<text x="58.1" y="470.60" text-anchor="end" class="tk">−20</text>
<line x1="64" y1="372.32" x2="73.0" y2="372.32" stroke="#000" stroke-width="2"/>
<text x="58.1" y="379.32" text-anchor="end" class="tk">0</text>
<line x1="64" y1="281.04" x2="73.0" y2="281.04" stroke="#000" stroke-width="2"/>
<text x="58.1" y="288.04" text-anchor="end" class="tk">20</text>
<line x1="64" y1="189.76" x2="73.0" y2="189.76" stroke="#000" stroke-width="2"/>
<text x="58.1" y="196.76" text-anchor="end" class="tk">40</text>
<line x1="64" y1="98.48" x2="73.0" y2="98.48" stroke="#000" stroke-width="2"/>
<text x="58.1" y="105.48" text-anchor="end" class="tk">60</text>
<line x1="64" y1="7.20" x2="73.0" y2="7.20" stroke="#000" stroke-width="2"/>
<text x="58.1" y="14.20" text-anchor="end" class="tk">80</text>
<line x1="68.3" y1="417.96" x2="73.0" y2="417.96" stroke="#000" stroke-width="2"/>
<line x1="68.3" y1="326.68" x2="73.0" y2="326.68" stroke="#000" stroke-width="2"/>
<line x1="68.3" y1="235.40" x2="73.0" y2="235.40" stroke="#000" stroke-width="2"/>
<line x1="68.3" y1="144.12" x2="73.0" y2="144.12" stroke="#000" stroke-width="2"/>
<line x1="68.3" y1="52.84" x2="73.0" y2="52.84" stroke="#000" stroke-width="2"/>
<line x1="144.15" y1="463.6" x2="144.15" y2="472.3" stroke="#000" stroke-width="2"/>
<text x="144.15" y="493" text-anchor="middle" class="xt">ANN</text>
<line x1="286.65" y1="463.6" x2="286.65" y2="472.3" stroke="#000" stroke-width="2"/>
<text x="286.65" y="493" text-anchor="middle" class="xt">RF</text>
<line x1="429.0" y1="463.6" x2="429.0" y2="472.3" stroke="#000" stroke-width="2"/>
<text x="429.0" y="493" text-anchor="middle" class="xt">SVR</text>
<line x1="571.55" y1="463.6" x2="571.55" y2="472.3" stroke="#000" stroke-width="2"/>
<text x="571.55" y="493" text-anchor="middle" class="xt">GBDT</text>
<text transform="translate(17.2,234.4) rotate(-90)" text-anchor="middle" class="yl">Relative error(%)</text>
<rect x="434" y="16.7" width="54" height="27" fill="#404040"/>
<path d="M452.1,47.5 H469.8 M460.9,47.5 V71.6 M452.1,71.6 H469.8" stroke="#383838" stroke-width="1.6" fill="none"/>
<circle cx="460.9" cy="88.6" r="2.5" fill="#fff" stroke="#555" stroke-width="0.9"/>
<text x="494.3" y="39.3" class="lg">25%-75%</text>
<text x="494.5" y="67.0" class="lg">Within 1.5IQR</text>
<text x="494.2" y="96.6" class="lg">Median</text>
</svg>
</body></html>
